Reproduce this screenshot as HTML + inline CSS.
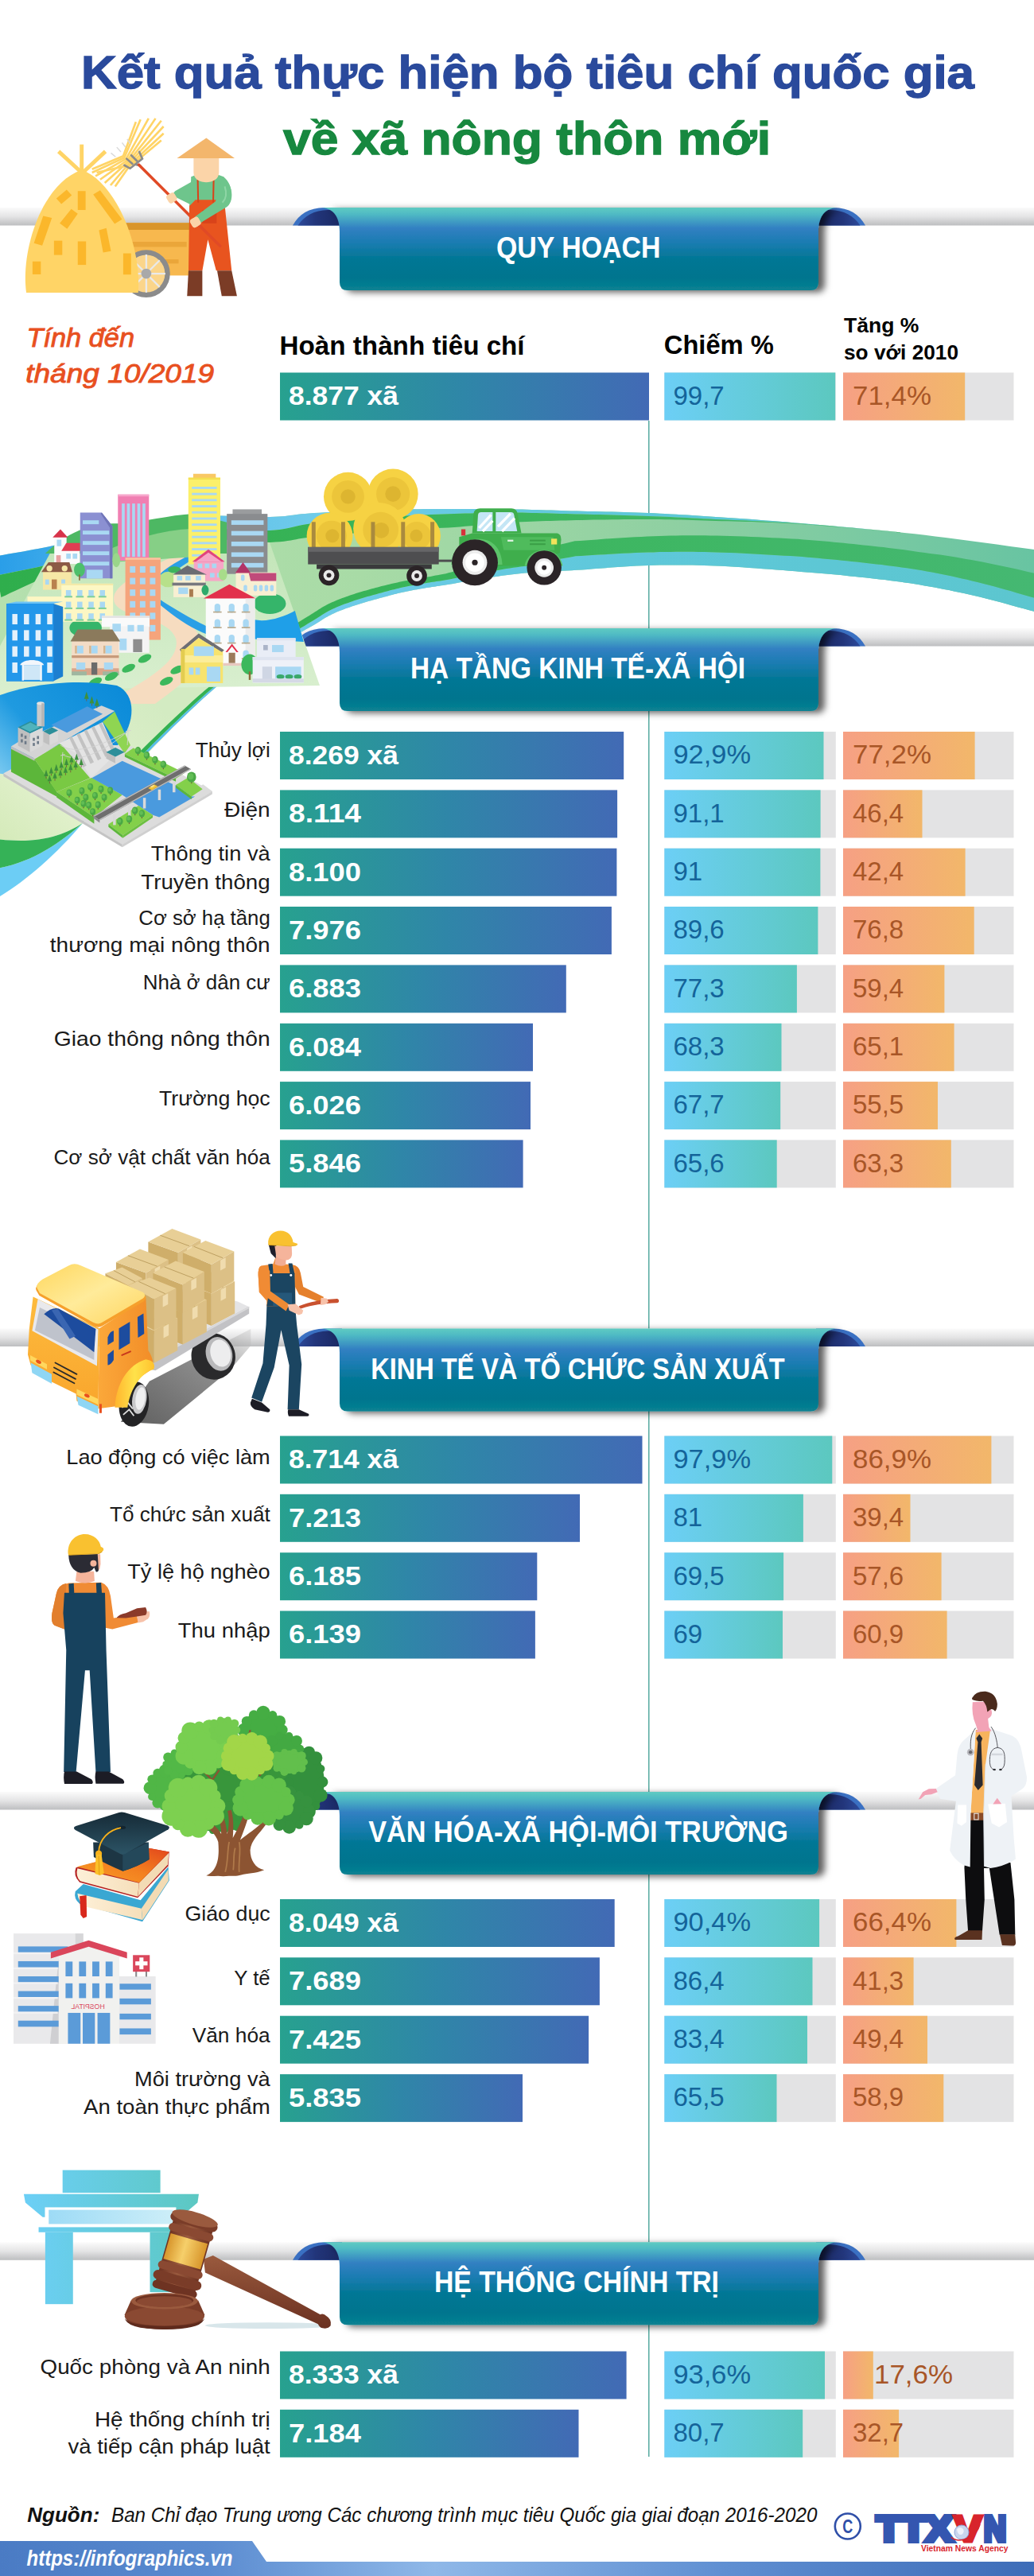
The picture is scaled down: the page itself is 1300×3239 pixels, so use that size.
<!DOCTYPE html>
<html lang="vi"><head><meta charset="utf-8"><title>Kết quả thực hiện bộ tiêu chí quốc gia về xã nông thôn mới</title>
<style>
html,body{margin:0;padding:0;background:#fff;}
body{width:1300px;height:3239px;overflow:hidden;}
svg{display:block;font-family:"Liberation Sans", sans-serif;}
</style></head><body>
<svg width="1300" height="3239" viewBox="0 0 1300 3239">

<defs>
<linearGradient id="gMain" x1="0" x2="1" y1="0" y2="0"><stop offset="0" stop-color="#27a18f"/><stop offset="0.5" stop-color="#2f86a8"/><stop offset="1" stop-color="#426ab5"/></linearGradient>
<linearGradient id="gPct" x1="0" x2="1" y1="0" y2="0"><stop offset="0" stop-color="#6ccff6"/><stop offset="1" stop-color="#5cc8bf"/></linearGradient>
<linearGradient id="gInc" x1="0" x2="1" y1="0" y2="0"><stop offset="0" stop-color="#f6a084"/><stop offset="1" stop-color="#f2b76a"/></linearGradient>
<linearGradient id="gStripe" x1="0" x2="0" y1="0" y2="1"><stop offset="0" stop-color="#fbfbfb"/><stop offset="0.5" stop-color="#e4e4e5"/><stop offset="1" stop-color="#bdbec0"/></linearGradient>
<linearGradient id="gRibbon" x1="0" x2="0" y1="0" y2="1"><stop offset="0" stop-color="#5fcbc2"/><stop offset="0.08" stop-color="#4fbac4"/><stop offset="0.25" stop-color="#3280c2"/><stop offset="0.42" stop-color="#1b7cb2"/><stop offset="0.62" stop-color="#027795"/><stop offset="0.85" stop-color="#02758e"/><stop offset="1" stop-color="#088292"/></linearGradient>
<linearGradient id="gFoldL" x1="0" x2="1" y1="0" y2="0"><stop offset="0" stop-color="#2d4a9a"/><stop offset="0.4" stop-color="#22357a"/><stop offset="1" stop-color="#1a2862"/></linearGradient>
<linearGradient id="gFoldR" x1="1" x2="0" y1="0" y2="0"><stop offset="0" stop-color="#2d4a9a"/><stop offset="0.4" stop-color="#22357a"/><stop offset="1" stop-color="#1a2862"/></linearGradient>
<linearGradient id="gFoot" x1="0" x2="1" y1="0" y2="0"><stop offset="0" stop-color="#4a7bc4"/><stop offset="0.2" stop-color="#5a8bd0"/><stop offset="0.42" stop-color="#8fb8e8"/><stop offset="0.7" stop-color="#5f8fd2"/><stop offset="1" stop-color="#3d6cb8"/></linearGradient>
<filter id="sh" x="-5%" y="-10%" width="110%" height="130%"><feDropShadow dx="8" dy="2.5" stdDeviation="4" flood-color="#000" flood-opacity="0.62"/></filter>
</defs>

<text x="102" y="111" font-size="58" fill="#2a4a9c" font-weight="bold" textLength="1123" lengthAdjust="spacingAndGlyphs" stroke="#2a4a9c" stroke-width="1.3">Kết quả thực hiện bộ tiêu chí quốc gia</text>
<text x="356" y="194" font-size="58" fill="#17883f" font-weight="bold" textLength="613" lengthAdjust="spacingAndGlyphs" stroke="#17883f" stroke-width="1.3">về xã nông thôn mới</text>
<rect x="815.1" y="529" width="1.4" height="2560" fill="#4aa39a"/>

<rect x="0" y="261" width="1300" height="22.5" fill="url(#gStripe)"/>
<path d="M368,283.5 C376,269 388,261.5 408,261 L430,261 L430,283.5 Z" fill="#3a70c2"/>
<path d="M374.5,283.5 C383,271 395,264.5 412,264 L430,264 L430,283.5 Z" fill="url(#gFoldL)"/>
<path d="M1088,283.5 C1080,269 1068,261.5 1048,261 L1026,261 L1026,283.5 Z" fill="#3a70c2"/>
<path d="M1081.5,283.5 C1073,271 1061,264.5 1044,264 L1026,264 L1026,283.5 Z" fill="url(#gFoldR)"/>
<path filter="url(#sh)" d="M427,291 C427,271 418,261 402,261 L1054,261 C1038,261 1029,271 1029,291 L1029,355 Q1029,365 1019,365 L437,365 Q427,365 427,355 Z" fill="url(#gRibbon)"/>
<text x="624" y="324" font-size="37" fill="#fff" font-weight="bold" textLength="206.5" lengthAdjust="spacingAndGlyphs">QUY HOẠCH</text>
<text x="33.5" y="436" font-size="33.5" fill="#e8501f" font-style="italic" textLength="135.5" lengthAdjust="spacingAndGlyphs" stroke="#e8501f" stroke-width="0.9">Tính đến</text>
<text x="32.2" y="480.7" font-size="33.5" fill="#e8501f" font-style="italic" textLength="237" lengthAdjust="spacingAndGlyphs" stroke="#e8501f" stroke-width="0.9">tháng 10/2019</text>
<text x="351.6" y="446.4" font-size="33" fill="#000" font-weight="bold" textLength="308" lengthAdjust="spacingAndGlyphs">Hoàn thành tiêu chí</text>
<text x="834.8" y="445.3" font-size="33" fill="#000" font-weight="bold" textLength="138" lengthAdjust="spacingAndGlyphs">Chiếm %</text>
<text x="1061" y="417.7" font-size="25.7" fill="#000" font-weight="bold" textLength="94.4" lengthAdjust="spacingAndGlyphs">Tăng %</text>
<text x="1061" y="451.6" font-size="25.7" fill="#000" font-weight="bold" textLength="144" lengthAdjust="spacingAndGlyphs">so với 2010</text>
<rect x="352" y="468.5" width="464.0" height="60" fill="url(#gMain)"/>
<text x="363" y="509.3" font-size="34" fill="#fff" font-weight="bold" textLength="138" lengthAdjust="spacingAndGlyphs">8.877 xã</text>
<rect x="835.3" y="468.5" width="215.5" height="60" fill="#e3e3e4"/>
<rect x="835.3" y="468.5" width="214.9" height="60" fill="url(#gPct)"/>
<text x="846.5" y="508.8" font-size="33" fill="#14649a">99,7</text>
<rect x="1060" y="468.5" width="214.5" height="60" fill="#e3e3e4"/>
<rect x="1060" y="468.5" width="153.2" height="60" fill="url(#gInc)"/>
<text x="1072" y="508.8" font-size="33" fill="#a85627" textLength="99" lengthAdjust="spacingAndGlyphs">71,4%</text>
<rect x="0" y="790" width="1300" height="22.5" fill="url(#gStripe)"/>
<path d="M368,812.5 C376,798 388,790.5 408,790 L430,790 L430,812.5 Z" fill="#3a70c2"/>
<path d="M374.5,812.5 C383,800 395,793.5 412,793 L430,793 L430,812.5 Z" fill="url(#gFoldL)"/>
<path d="M1088,812.5 C1080,798 1068,790.5 1048,790 L1026,790 L1026,812.5 Z" fill="#3a70c2"/>
<path d="M1081.5,812.5 C1073,800 1061,793.5 1044,793 L1026,793 L1026,812.5 Z" fill="url(#gFoldR)"/>
<path filter="url(#sh)" d="M427,820 C427,800 418,790 402,790 L1054,790 C1038,790 1029,800 1029,820 L1029,884 Q1029,894 1019,894 L437,894 Q427,894 427,884 Z" fill="url(#gRibbon)"/>
<text x="516" y="853" font-size="37" fill="#fff" font-weight="bold" textLength="421" lengthAdjust="spacingAndGlyphs">HẠ TẦNG KINH TẾ-XÃ HỘI</text>
<rect x="352" y="920.0" width="432.2" height="60" fill="url(#gMain)"/>
<text x="363" y="960.8" font-size="34" fill="#fff" font-weight="bold" textLength="138" lengthAdjust="spacingAndGlyphs">8.269 xã</text>
<rect x="835.3" y="920.0" width="215.5" height="60" fill="#e3e3e4"/>
<rect x="835.3" y="920.0" width="200.2" height="60" fill="url(#gPct)"/>
<text x="846.5" y="960.3" font-size="33" fill="#14649a" textLength="97.5" lengthAdjust="spacingAndGlyphs">92,9%</text>
<rect x="1060" y="920.0" width="214.5" height="60" fill="#e3e3e4"/>
<rect x="1060" y="920.0" width="165.6" height="60" fill="url(#gInc)"/>
<text x="1072" y="960.3" font-size="33" fill="#a85627" textLength="99" lengthAdjust="spacingAndGlyphs">77,2%</text>
<text x="245.7" y="952.0" font-size="25.5" fill="#1a1a1a" textLength="94.0" lengthAdjust="spacingAndGlyphs">Thủy lợi</text>
<rect x="352" y="993.4" width="424.1" height="60" fill="url(#gMain)"/>
<text x="363" y="1034.2" font-size="34" fill="#fff" font-weight="bold" textLength="91" lengthAdjust="spacingAndGlyphs">8.114</text>
<rect x="835.3" y="993.4" width="215.5" height="60" fill="#e3e3e4"/>
<rect x="835.3" y="993.4" width="196.3" height="60" fill="url(#gPct)"/>
<text x="846.5" y="1033.7" font-size="33" fill="#14649a">91,1</text>
<rect x="1060" y="993.4" width="214.5" height="60" fill="#e3e3e4"/>
<rect x="1060" y="993.4" width="99.5" height="60" fill="url(#gInc)"/>
<text x="1072" y="1033.7" font-size="33" fill="#a85627">46,4</text>
<text x="282" y="1026.7" font-size="25.5" fill="#1a1a1a" textLength="57.7" lengthAdjust="spacingAndGlyphs">Điện</text>
<rect x="352" y="1066.7" width="423.4" height="60" fill="url(#gMain)"/>
<text x="363" y="1107.5" font-size="34" fill="#fff" font-weight="bold" textLength="91" lengthAdjust="spacingAndGlyphs">8.100</text>
<rect x="835.3" y="1066.7" width="215.5" height="60" fill="#e3e3e4"/>
<rect x="835.3" y="1066.7" width="196.1" height="60" fill="url(#gPct)"/>
<text x="846.5" y="1107.0" font-size="33" fill="#14649a">91</text>
<rect x="1060" y="1066.7" width="214.5" height="60" fill="#e3e3e4"/>
<rect x="1060" y="1066.7" width="153.6" height="60" fill="url(#gInc)"/>
<text x="1072" y="1107.0" font-size="33" fill="#a85627">42,4</text>
<text x="189.7" y="1082.2" font-size="25.5" fill="#1a1a1a" textLength="150.0" lengthAdjust="spacingAndGlyphs">Thông tin và</text>
<text x="177.3" y="1117.7" font-size="25.5" fill="#1a1a1a" textLength="162.4" lengthAdjust="spacingAndGlyphs">Truyền thông</text>
<rect x="352" y="1140.0" width="416.9" height="60" fill="url(#gMain)"/>
<text x="363" y="1180.8" font-size="34" fill="#fff" font-weight="bold" textLength="91" lengthAdjust="spacingAndGlyphs">7.976</text>
<rect x="835.3" y="1140.0" width="215.5" height="60" fill="#e3e3e4"/>
<rect x="835.3" y="1140.0" width="193.1" height="60" fill="url(#gPct)"/>
<text x="846.5" y="1180.3" font-size="33" fill="#14649a">89,6</text>
<rect x="1060" y="1140.0" width="214.5" height="60" fill="#e3e3e4"/>
<rect x="1060" y="1140.0" width="164.7" height="60" fill="url(#gInc)"/>
<text x="1072" y="1180.3" font-size="33" fill="#a85627">76,8</text>
<text x="174.3" y="1162.5" font-size="25.5" fill="#1a1a1a" textLength="165.4" lengthAdjust="spacingAndGlyphs">Cơ sở hạ tầng</text>
<text x="62.8" y="1196.5" font-size="25.5" fill="#1a1a1a" textLength="276.9" lengthAdjust="spacingAndGlyphs">thương mại nông thôn</text>
<rect x="352" y="1213.4" width="359.8" height="60" fill="url(#gMain)"/>
<text x="363" y="1254.2" font-size="34" fill="#fff" font-weight="bold" textLength="91" lengthAdjust="spacingAndGlyphs">6.883</text>
<rect x="835.3" y="1213.4" width="215.5" height="60" fill="#e3e3e4"/>
<rect x="835.3" y="1213.4" width="166.6" height="60" fill="url(#gPct)"/>
<text x="846.5" y="1253.7" font-size="33" fill="#14649a">77,3</text>
<rect x="1060" y="1213.4" width="214.5" height="60" fill="#e3e3e4"/>
<rect x="1060" y="1213.4" width="127.4" height="60" fill="url(#gInc)"/>
<text x="1072" y="1253.7" font-size="33" fill="#a85627">59,4</text>
<text x="179.8" y="1243.8000000000002" font-size="25.5" fill="#1a1a1a" textLength="159.9" lengthAdjust="spacingAndGlyphs">Nhà ở dân cư</text>
<rect x="352" y="1286.8" width="318.0" height="60" fill="url(#gMain)"/>
<text x="363" y="1327.6" font-size="34" fill="#fff" font-weight="bold" textLength="91" lengthAdjust="spacingAndGlyphs">6.084</text>
<rect x="835.3" y="1286.8" width="215.5" height="60" fill="#e3e3e4"/>
<rect x="835.3" y="1286.8" width="147.2" height="60" fill="url(#gPct)"/>
<text x="846.5" y="1327.1" font-size="33" fill="#14649a">68,3</text>
<rect x="1060" y="1286.8" width="214.5" height="60" fill="#e3e3e4"/>
<rect x="1060" y="1286.8" width="139.6" height="60" fill="url(#gInc)"/>
<text x="1072" y="1327.1" font-size="33" fill="#a85627">65,1</text>
<text x="67.8" y="1315.3" font-size="25.5" fill="#1a1a1a" textLength="271.9" lengthAdjust="spacingAndGlyphs">Giao thông nông thôn</text>
<rect x="352" y="1360.1" width="315.0" height="60" fill="url(#gMain)"/>
<text x="363" y="1400.8999999999999" font-size="34" fill="#fff" font-weight="bold" textLength="91" lengthAdjust="spacingAndGlyphs">6.026</text>
<rect x="835.3" y="1360.1" width="215.5" height="60" fill="#e3e3e4"/>
<rect x="835.3" y="1360.1" width="145.9" height="60" fill="url(#gPct)"/>
<text x="846.5" y="1400.3999999999999" font-size="33" fill="#14649a">67,7</text>
<rect x="1060" y="1360.1" width="214.5" height="60" fill="#e3e3e4"/>
<rect x="1060" y="1360.1" width="119.0" height="60" fill="url(#gInc)"/>
<text x="1072" y="1400.3999999999999" font-size="33" fill="#a85627">55,5</text>
<text x="200" y="1390.1" font-size="25.5" fill="#1a1a1a" textLength="139.7" lengthAdjust="spacingAndGlyphs">Trường học</text>
<rect x="352" y="1433.4" width="305.6" height="60" fill="url(#gMain)"/>
<text x="363" y="1474.2" font-size="34" fill="#fff" font-weight="bold" textLength="91" lengthAdjust="spacingAndGlyphs">5.846</text>
<rect x="835.3" y="1433.4" width="215.5" height="60" fill="#e3e3e4"/>
<rect x="835.3" y="1433.4" width="141.4" height="60" fill="url(#gPct)"/>
<text x="846.5" y="1473.7" font-size="33" fill="#14649a">65,6</text>
<rect x="1060" y="1433.4" width="214.5" height="60" fill="#e3e3e4"/>
<rect x="1060" y="1433.4" width="135.8" height="60" fill="url(#gInc)"/>
<text x="1072" y="1473.7" font-size="33" fill="#a85627">63,3</text>
<text x="67.5" y="1464.4" font-size="25.5" fill="#1a1a1a" textLength="272.2" lengthAdjust="spacingAndGlyphs">Cơ sở vật chất văn hóa</text>
<rect x="0" y="1670.5" width="1300" height="22.5" fill="url(#gStripe)"/>
<path d="M368,1693.0 C376,1678.5 388,1671.0 408,1670.5 L430,1670.5 L430,1693.0 Z" fill="#3a70c2"/>
<path d="M374.5,1693.0 C383,1680.5 395,1674.0 412,1673.5 L430,1673.5 L430,1693.0 Z" fill="url(#gFoldL)"/>
<path d="M1088,1693.0 C1080,1678.5 1068,1671.0 1048,1670.5 L1026,1670.5 L1026,1693.0 Z" fill="#3a70c2"/>
<path d="M1081.5,1693.0 C1073,1680.5 1061,1674.0 1044,1673.5 L1026,1673.5 L1026,1693.0 Z" fill="url(#gFoldR)"/>
<path filter="url(#sh)" d="M427,1700.5 C427,1680.5 418,1670.5 402,1670.5 L1054,1670.5 C1038,1670.5 1029,1680.5 1029,1700.5 L1029,1764.5 Q1029,1774.5 1019,1774.5 L437,1774.5 Q427,1774.5 427,1764.5 Z" fill="url(#gRibbon)"/>
<text x="466.2" y="1733.5" font-size="37" fill="#fff" font-weight="bold" textLength="520.4000000000001" lengthAdjust="spacingAndGlyphs">KINH TẾ VÀ TỔ CHỨC SẢN XUẤT</text>
<rect x="352" y="1805.5" width="455.5" height="60" fill="url(#gMain)"/>
<text x="363" y="1846.3" font-size="34" fill="#fff" font-weight="bold" textLength="138" lengthAdjust="spacingAndGlyphs">8.714 xã</text>
<rect x="835.3" y="1805.5" width="215.5" height="60" fill="#e3e3e4"/>
<rect x="835.3" y="1805.5" width="211.0" height="60" fill="url(#gPct)"/>
<text x="846.5" y="1845.8" font-size="33" fill="#14649a" textLength="97.5" lengthAdjust="spacingAndGlyphs">97,9%</text>
<rect x="1060" y="1805.5" width="214.5" height="60" fill="#e3e3e4"/>
<rect x="1060" y="1805.5" width="186.4" height="60" fill="url(#gInc)"/>
<text x="1072" y="1845.8" font-size="33" fill="#a85627" textLength="99" lengthAdjust="spacingAndGlyphs">86,9%</text>
<text x="83.3" y="1840.5" font-size="25.5" fill="#1a1a1a" textLength="256.4" lengthAdjust="spacingAndGlyphs">Lao động có việc làm</text>
<rect x="352" y="1878.8" width="377.0" height="60" fill="url(#gMain)"/>
<text x="363" y="1919.6" font-size="34" fill="#fff" font-weight="bold" textLength="91" lengthAdjust="spacingAndGlyphs">7.213</text>
<rect x="835.3" y="1878.8" width="215.5" height="60" fill="#e3e3e4"/>
<rect x="835.3" y="1878.8" width="174.6" height="60" fill="url(#gPct)"/>
<text x="846.5" y="1919.1" font-size="33" fill="#14649a">81</text>
<rect x="1060" y="1878.8" width="214.5" height="60" fill="#e3e3e4"/>
<rect x="1060" y="1878.8" width="84.5" height="60" fill="url(#gInc)"/>
<text x="1072" y="1919.1" font-size="33" fill="#a85627">39,4</text>
<text x="138" y="1913.2" font-size="25.5" fill="#1a1a1a" textLength="201.7" lengthAdjust="spacingAndGlyphs">Tổ chức sản xuất</text>
<rect x="352" y="1952.2" width="323.3" height="60" fill="url(#gMain)"/>
<text x="363" y="1993.0" font-size="34" fill="#fff" font-weight="bold" textLength="91" lengthAdjust="spacingAndGlyphs">6.185</text>
<rect x="835.3" y="1952.2" width="215.5" height="60" fill="#e3e3e4"/>
<rect x="835.3" y="1952.2" width="149.8" height="60" fill="url(#gPct)"/>
<text x="846.5" y="1992.5" font-size="33" fill="#14649a">69,5</text>
<rect x="1060" y="1952.2" width="214.5" height="60" fill="#e3e3e4"/>
<rect x="1060" y="1952.2" width="123.6" height="60" fill="url(#gInc)"/>
<text x="1072" y="1992.5" font-size="33" fill="#a85627">57,6</text>
<text x="160.3" y="1984.7" font-size="25.5" fill="#1a1a1a" textLength="179.4" lengthAdjust="spacingAndGlyphs">Tỷ lệ hộ nghèo</text>
<rect x="352" y="2025.5" width="320.9" height="60" fill="url(#gMain)"/>
<text x="363" y="2066.3" font-size="34" fill="#fff" font-weight="bold" textLength="91" lengthAdjust="spacingAndGlyphs">6.139</text>
<rect x="835.3" y="2025.5" width="215.5" height="60" fill="#e3e3e4"/>
<rect x="835.3" y="2025.5" width="148.7" height="60" fill="url(#gPct)"/>
<text x="846.5" y="2065.8" font-size="33" fill="#14649a">69</text>
<rect x="1060" y="2025.5" width="214.5" height="60" fill="#e3e3e4"/>
<rect x="1060" y="2025.5" width="130.6" height="60" fill="url(#gInc)"/>
<text x="1072" y="2065.8" font-size="33" fill="#a85627">60,9</text>
<text x="223.8" y="2059.0" font-size="25.5" fill="#1a1a1a" textLength="115.9" lengthAdjust="spacingAndGlyphs">Thu nhập</text>
<rect x="0" y="2253" width="1300" height="22.5" fill="url(#gStripe)"/>
<path d="M368,2275.5 C376,2261 388,2253.5 408,2253 L430,2253 L430,2275.5 Z" fill="#3a70c2"/>
<path d="M374.5,2275.5 C383,2263 395,2256.5 412,2256 L430,2256 L430,2275.5 Z" fill="url(#gFoldL)"/>
<path d="M1088,2275.5 C1080,2261 1068,2253.5 1048,2253 L1026,2253 L1026,2275.5 Z" fill="#3a70c2"/>
<path d="M1081.5,2275.5 C1073,2263 1061,2256.5 1044,2256 L1026,2256 L1026,2275.5 Z" fill="url(#gFoldR)"/>
<path filter="url(#sh)" d="M427,2283 C427,2263 418,2253 402,2253 L1054,2253 C1038,2253 1029,2263 1029,2283 L1029,2347 Q1029,2357 1019,2357 L437,2357 Q427,2357 427,2347 Z" fill="url(#gRibbon)"/>
<text x="463.2" y="2316" font-size="37" fill="#fff" font-weight="bold" textLength="527.5999999999999" lengthAdjust="spacingAndGlyphs">VĂN HÓA-XÃ HỘI-MÔI TRƯỜNG</text>
<rect x="352" y="2388.0" width="420.7" height="60" fill="url(#gMain)"/>
<text x="363" y="2428.8" font-size="34" fill="#fff" font-weight="bold" textLength="138" lengthAdjust="spacingAndGlyphs">8.049 xã</text>
<rect x="835.3" y="2388.0" width="215.5" height="60" fill="#e3e3e4"/>
<rect x="835.3" y="2388.0" width="194.8" height="60" fill="url(#gPct)"/>
<text x="846.5" y="2428.3" font-size="33" fill="#14649a" textLength="97.5" lengthAdjust="spacingAndGlyphs">90,4%</text>
<rect x="1060" y="2388.0" width="214.5" height="60" fill="#e3e3e4"/>
<rect x="1060" y="2388.0" width="142.4" height="60" fill="url(#gInc)"/>
<text x="1072" y="2428.3" font-size="33" fill="#a85627" textLength="99" lengthAdjust="spacingAndGlyphs">66,4%</text>
<text x="232.4" y="2415.0" font-size="25.5" fill="#1a1a1a" textLength="107.3" lengthAdjust="spacingAndGlyphs">Giáo dục</text>
<rect x="352" y="2461.3" width="401.9" height="60" fill="url(#gMain)"/>
<text x="363" y="2502.1000000000004" font-size="34" fill="#fff" font-weight="bold" textLength="91" lengthAdjust="spacingAndGlyphs">7.689</text>
<rect x="835.3" y="2461.3" width="215.5" height="60" fill="#e3e3e4"/>
<rect x="835.3" y="2461.3" width="186.2" height="60" fill="url(#gPct)"/>
<text x="846.5" y="2501.6000000000004" font-size="33" fill="#14649a">86,4</text>
<rect x="1060" y="2461.3" width="214.5" height="60" fill="#e3e3e4"/>
<rect x="1060" y="2461.3" width="88.6" height="60" fill="url(#gInc)"/>
<text x="1072" y="2501.6000000000004" font-size="33" fill="#a85627">41,3</text>
<text x="294.3" y="2495.9" font-size="25.5" fill="#1a1a1a" textLength="45.4" lengthAdjust="spacingAndGlyphs">Y tế</text>
<rect x="352" y="2534.7" width="388.1" height="60" fill="url(#gMain)"/>
<text x="363" y="2575.5" font-size="34" fill="#fff" font-weight="bold" textLength="91" lengthAdjust="spacingAndGlyphs">7.425</text>
<rect x="835.3" y="2534.7" width="215.5" height="60" fill="#e3e3e4"/>
<rect x="835.3" y="2534.7" width="179.7" height="60" fill="url(#gPct)"/>
<text x="846.5" y="2575.0" font-size="33" fill="#14649a">83,4</text>
<rect x="1060" y="2534.7" width="214.5" height="60" fill="#e3e3e4"/>
<rect x="1060" y="2534.7" width="106.0" height="60" fill="url(#gInc)"/>
<text x="1072" y="2575.0" font-size="33" fill="#a85627">49,4</text>
<text x="241.7" y="2567.7" font-size="25.5" fill="#1a1a1a" textLength="98.0" lengthAdjust="spacingAndGlyphs">Văn hóa</text>
<rect x="352" y="2608.1" width="305.0" height="60" fill="url(#gMain)"/>
<text x="363" y="2648.9" font-size="34" fill="#fff" font-weight="bold" textLength="91" lengthAdjust="spacingAndGlyphs">5.835</text>
<rect x="835.3" y="2608.1" width="215.5" height="60" fill="#e3e3e4"/>
<rect x="835.3" y="2608.1" width="141.2" height="60" fill="url(#gPct)"/>
<text x="846.5" y="2648.4" font-size="33" fill="#14649a">65,5</text>
<rect x="1060" y="2608.1" width="214.5" height="60" fill="#e3e3e4"/>
<rect x="1060" y="2608.1" width="126.3" height="60" fill="url(#gInc)"/>
<text x="1072" y="2648.4" font-size="33" fill="#a85627">58,9</text>
<text x="169" y="2623.2999999999997" font-size="25.5" fill="#1a1a1a" textLength="170.7" lengthAdjust="spacingAndGlyphs">Môi trường và</text>
<text x="105" y="2657.6" font-size="25.5" fill="#1a1a1a" textLength="234.7" lengthAdjust="spacingAndGlyphs">An toàn thực phẩm</text>
<rect x="0" y="2819.3" width="1300" height="22.5" fill="url(#gStripe)"/>
<path d="M368,2841.8 C376,2827.3 388,2819.8 408,2819.3 L430,2819.3 L430,2841.8 Z" fill="#3a70c2"/>
<path d="M374.5,2841.8 C383,2829.3 395,2822.8 412,2822.3 L430,2822.3 L430,2841.8 Z" fill="url(#gFoldL)"/>
<path d="M1088,2841.8 C1080,2827.3 1068,2819.8 1048,2819.3 L1026,2819.3 L1026,2841.8 Z" fill="#3a70c2"/>
<path d="M1081.5,2841.8 C1073,2829.3 1061,2822.8 1044,2822.3 L1026,2822.3 L1026,2841.8 Z" fill="url(#gFoldR)"/>
<path filter="url(#sh)" d="M427,2849.3 C427,2829.3 418,2819.3 402,2819.3 L1054,2819.3 C1038,2819.3 1029,2829.3 1029,2849.3 L1029,2913.3 Q1029,2923.3 1019,2923.3 L437,2923.3 Q427,2923.3 427,2913.3 Z" fill="url(#gRibbon)"/>
<text x="546" y="2882.3" font-size="37" fill="#fff" font-weight="bold" textLength="358" lengthAdjust="spacingAndGlyphs">HỆ THỐNG CHÍNH TRỊ</text>
<rect x="352" y="2956.5" width="435.6" height="60" fill="url(#gMain)"/>
<text x="363" y="2997.3" font-size="34" fill="#fff" font-weight="bold" textLength="138" lengthAdjust="spacingAndGlyphs">8.333 xã</text>
<rect x="835.3" y="2956.5" width="215.5" height="60" fill="#e3e3e4"/>
<rect x="835.3" y="2956.5" width="201.7" height="60" fill="url(#gPct)"/>
<text x="846.5" y="2996.8" font-size="33" fill="#14649a" textLength="97.5" lengthAdjust="spacingAndGlyphs">93,6%</text>
<rect x="1060" y="2956.5" width="214.5" height="60" fill="#e3e3e4"/>
<rect x="1060" y="2956.5" width="37.8" height="60" fill="url(#gInc)"/>
<text x="1099" y="2996.8" font-size="33" fill="#a85627" textLength="99" lengthAdjust="spacingAndGlyphs">17,6%</text>
<text x="50.5" y="2985.0" font-size="25.5" fill="#1a1a1a" textLength="289.2" lengthAdjust="spacingAndGlyphs">Quốc phòng và An ninh</text>
<rect x="352" y="3029.8" width="375.5" height="60" fill="url(#gMain)"/>
<text x="363" y="3070.6000000000004" font-size="34" fill="#fff" font-weight="bold" textLength="91" lengthAdjust="spacingAndGlyphs">7.184</text>
<rect x="835.3" y="3029.8" width="215.5" height="60" fill="#e3e3e4"/>
<rect x="835.3" y="3029.8" width="173.9" height="60" fill="url(#gPct)"/>
<text x="846.5" y="3070.1000000000004" font-size="33" fill="#14649a">80,7</text>
<rect x="1060" y="3029.8" width="214.5" height="60" fill="#e3e3e4"/>
<rect x="1060" y="3029.8" width="70.1" height="60" fill="url(#gInc)"/>
<text x="1072" y="3070.1000000000004" font-size="33" fill="#a85627">32,7</text>
<text x="118.9" y="3050.8" font-size="25.5" fill="#1a1a1a" textLength="220.8" lengthAdjust="spacingAndGlyphs">Hệ thống chính trị</text>
<text x="85.4" y="3084.8" font-size="25.5" fill="#1a1a1a" textLength="254.3" lengthAdjust="spacingAndGlyphs">và tiếp cận pháp luật</text>
<path d="M0,3195 L317,3195 L335,3221 L1300,3221 L1300,3239 L0,3239 Z" fill="url(#gFoot)"/>
<text x="33.5" y="3225.5" font-size="28.5" fill="#fff" font-weight="bold" font-style="italic" textLength="259" lengthAdjust="spacingAndGlyphs">https://infographics.vn</text>
<text x="34.3" y="3170.6" font-size="26" fill="#111" font-weight="bold" font-style="italic" textLength="91" lengthAdjust="spacingAndGlyphs">Nguồn:</text>
<text x="140" y="3170.6" font-size="26" fill="#111" font-style="italic" textLength="887.4" lengthAdjust="spacingAndGlyphs">Ban Chỉ đạo Trung ương Các chương trình mục tiêu Quốc gia giai đoạn 2016-2020</text>
<g><defs>
<linearGradient id="bgBlue" gradientUnits="userSpaceOnUse" x1="0" x2="1300" y1="0" y2="0"><stop offset="0" stop-color="#2a9ee8"/><stop offset="0.12" stop-color="#52b8ec"/><stop offset="0.3" stop-color="#6fcbea"/><stop offset="0.6" stop-color="#5ec8da"/><stop offset="1" stop-color="#5cc6cf"/></linearGradient>
<linearGradient id="bgGreen" gradientUnits="userSpaceOnUse" x1="0" x2="1300" y1="0" y2="0"><stop offset="0" stop-color="#2fae4c"/><stop offset="0.5" stop-color="#3cb65e"/><stop offset="1" stop-color="#45b872"/></linearGradient>
<linearGradient id="bgLG" gradientUnits="userSpaceOnUse" x1="0" x2="1300" y1="0" y2="0"><stop offset="0" stop-color="#b5e0ae"/><stop offset="0.35" stop-color="#a8dba6"/><stop offset="0.65" stop-color="#8fd0a2"/><stop offset="1" stop-color="#68c4a2"/></linearGradient>
<linearGradient id="bgGround" gradientUnits="userSpaceOnUse" x1="0" x2="0" y1="680" y2="870"><stop offset="0" stop-color="#c2e5b8"/><stop offset="1" stop-color="#d9efcf"/></linearGradient>
<linearGradient id="bgGround2" gradientUnits="userSpaceOnUse" x1="180" x2="0" y1="870" y2="1080"><stop offset="0" stop-color="#d3ebc2"/><stop offset="0.6" stop-color="#e2f1cd"/><stop offset="1" stop-color="#d2e9b6"/></linearGradient>
<linearGradient id="bgLake" gradientUnits="userSpaceOnUse" x1="0" x2="160" y1="1000" y2="860"><stop offset="0" stop-color="#8fd4f4"/><stop offset="0.4" stop-color="#1f9ae0"/><stop offset="1" stop-color="#0a8ad8"/></linearGradient>
</defs>
<polygon points="-8.0,700.0 -1.8,698.9 4.4,697.7 10.6,696.6 16.8,695.6 22.9,694.5 29.1,693.4 35.3,692.3 41.6,691.1 47.8,689.9 54.2,688.7 60.5,687.4 67.0,686.0 73.5,684.5 80.1,683.0 86.8,681.4 93.4,679.7 100.2,677.9 106.9,676.2 113.7,674.4 120.6,672.7 127.4,670.9 134.3,669.2 141.1,667.6 148.0,666.0 154.8,664.4 161.6,662.8 168.2,661.1 174.9,659.4 181.6,657.8 188.4,656.2 195.2,654.7 202.2,653.2 209.3,651.9 216.6,650.8 224.2,649.8 232.0,649.0 240.3,648.5 249.2,648.2 258.5,648.1 268.1,648.2 277.8,648.4 287.6,648.7 297.3,649.1 306.7,649.4 315.7,649.7 324.2,649.9 332.0,650.1 339.0,650.0 345.0,649.8 350.2,649.6 354.5,649.3 358.4,648.9 361.8,648.5 365.0,648.1 368.1,647.7 371.4,647.2 375.0,646.8 379.0,646.3 383.6,645.9 389.0,645.5 395.1,645.1 401.8,644.7 408.9,644.3 416.3,643.9 424.0,643.4 431.9,643.0 440.0,642.6 448.1,642.2 456.3,641.9 464.4,641.5 472.3,641.3 480.0,641.0 487.6,640.8 495.3,640.6 503.0,640.5 510.8,640.4 518.5,640.3 526.2,640.2 533.9,640.1 541.6,640.1 549.1,640.1 556.5,640.0 563.8,640.0 571.0,640.0 578.0,640.0 584.9,640.0 591.7,640.0 598.4,640.0 605.0,640.0 611.5,640.1 618.0,640.1 624.4,640.2 630.8,640.2 637.2,640.3 643.6,640.4 650.0,640.5 656.3,640.6 662.6,640.8 668.7,640.9 674.7,641.1 680.8,641.2 686.8,641.4 692.9,641.6 699.0,641.8 705.3,642.0 711.7,642.2 718.2,642.4 725.0,642.6 732.0,642.8 739.2,643.0 746.6,643.1 754.1,643.3 761.7,643.4 769.4,643.6 777.1,643.8 784.8,644.0 792.5,644.2 800.1,644.4 807.6,644.7 815.0,645.0 822.2,645.3 829.3,645.7 836.2,646.0 843.1,646.4 850.0,646.8 856.9,647.2 863.8,647.6 870.7,648.1 877.8,648.5 885.0,649.0 892.4,649.5 900.0,650.0 907.6,650.5 915.2,651.0 922.8,651.5 930.4,652.0 938.1,652.6 945.9,653.1 954.0,653.7 962.4,654.4 971.1,655.0 980.3,655.8 989.9,656.5 1000.0,657.4 1010.7,658.3 1022.0,659.3 1033.8,660.3 1046.0,661.3 1058.6,662.4 1071.4,663.5 1084.4,664.7 1097.6,665.9 1110.8,667.2 1124.0,668.5 1137.1,669.9 1150.0,671.3 1162.9,672.8 1175.9,674.4 1188.9,676.0 1202.1,677.7 1215.3,679.4 1228.5,681.2 1241.8,683.0 1255.0,684.8 1268.3,686.7 1281.6,688.5 1294.8,690.3 1308.0,692.0 1308.0,771.0 1301.1,769.1 1294.1,767.2 1287.1,765.3 1280.0,763.4 1273.0,761.5 1266.0,759.5 1259.0,757.6 1252.1,755.8 1245.2,754.0 1238.4,752.2 1231.6,750.6 1225.0,749.0 1218.5,747.5 1212.0,746.1 1205.7,744.7 1199.4,743.4 1193.2,742.1 1187.0,740.9 1180.8,739.7 1174.7,738.5 1168.6,737.4 1162.4,736.4 1156.2,735.3 1150.0,734.3 1143.8,733.3 1137.5,732.4 1131.2,731.5 1125.0,730.7 1118.8,729.9 1112.5,729.1 1106.2,728.4 1100.0,727.7 1093.8,727.0 1087.5,726.3 1081.2,725.7 1075.0,725.0 1068.8,724.4 1062.8,723.7 1056.8,723.1 1050.9,722.6 1045.0,722.0 1039.1,721.5 1033.0,721.0 1026.9,720.4 1020.5,719.9 1013.9,719.4 1007.1,718.9 1000.0,718.3 992.5,717.7 984.6,717.1 976.4,716.5 968.0,715.8 959.3,715.2 950.6,714.5 941.9,713.9 933.1,713.3 924.5,712.8 916.1,712.3 907.9,711.8 900.0,711.5 892.4,711.2 885.0,711.0 877.8,710.8 870.7,710.6 863.8,710.5 856.9,710.5 850.0,710.4 843.1,710.5 836.2,710.5 829.3,710.6 822.2,710.8 815.0,711.0 807.6,711.3 800.0,711.6 792.3,712.1 784.4,712.5 776.6,713.1 768.8,713.6 761.0,714.2 753.3,714.8 745.9,715.3 738.6,715.9 731.6,716.4 725.0,716.8 718.7,717.2 712.5,717.5 706.6,717.8 700.9,718.1 695.4,718.4 690.0,718.7 684.8,718.9 679.6,719.2 674.6,719.5 669.7,719.8 664.8,720.2 660.0,720.6 655.3,721.0 650.8,721.5 646.4,722.0 642.1,722.5 638.0,723.0 633.9,723.5 629.9,724.1 625.9,724.7 621.9,725.2 618.0,725.8 614.0,726.4 610.0,727.0 605.9,727.6 601.8,728.3 597.6,729.0 593.4,729.7 589.3,730.4 585.2,731.1 581.2,731.8 577.2,732.5 573.4,733.2 569.8,733.9 566.3,734.5 563.0,735.0 560.0,735.5 557.1,735.9 554.5,736.3 552.0,736.7 549.6,737.1 547.4,737.4 545.2,737.7 543.0,738.1 540.8,738.4 538.6,738.7 536.4,739.1 534.0,739.5 531.6,739.9 529.2,740.3 526.8,740.8 524.3,741.2 521.9,741.6 519.5,742.1 517.1,742.5 514.7,743.0 512.2,743.5 509.8,744.0 507.4,744.5 505.0,745.0 502.6,745.6 500.2,746.1 497.8,746.7 495.3,747.3 492.9,747.9 490.5,748.6 488.1,749.2 485.7,749.9 483.2,750.5 480.8,751.2 478.4,751.8 476.0,752.5 473.6,753.2 471.2,753.8 468.8,754.5 466.3,755.2 463.9,755.8 461.5,756.5 459.1,757.2 456.7,757.9 454.2,758.7 451.8,759.4 449.4,760.2 447.0,761.0 444.6,761.8 442.2,762.6 439.8,763.4 437.3,764.3 434.9,765.1 432.5,766.0 430.1,766.9 427.7,767.8 425.2,768.8 422.8,769.8 420.4,770.9 418.0,772.0 415.7,773.2 413.5,774.3 411.5,775.5 409.4,776.6 407.4,777.8 405.4,779.1 403.2,780.5 400.9,781.9 398.4,783.5 395.6,785.2 392.5,787.0 389.0,789.0 385.1,791.1 380.9,793.4 376.5,795.8 371.7,798.3 366.7,801.0 361.6,803.7 356.4,806.5 351.1,809.4 345.7,812.5 340.4,815.6 335.2,818.7 330.0,822.0 325.0,825.3 320.0,828.5 315.1,831.7 310.2,835.0 305.2,838.3 300.2,841.8 295.2,845.5 289.9,849.4 284.5,853.5 278.9,858.0 273.1,862.8 267.0,868.0 260.6,873.7 253.8,879.8 246.7,886.4 239.4,893.2 231.9,900.4 224.3,907.7 216.7,915.1 209.1,922.7 201.5,930.2 194.1,937.6 186.9,944.9 180.0,952.0 173.3,959.0 166.7,965.9 160.2,972.8 153.9,979.7 147.6,986.7 141.3,993.6 135.1,1000.5 128.9,1007.4 122.7,1014.3 116.5,1021.2 110.3,1028.1 104.0,1035.0 -8.0,1035.0" fill="url(#bgLG)"/>
<path d="M-5,860 L268,864 C215,915 150,985 104,1035 C80,1050 50,1062 -5,1055 Z" fill="url(#bgGround2)"/>
<path d="M-5,1130 C30,1110 70,1075 104,1035 C75,1060 40,1085 -5,1092 Z" fill="#6ccdf5"/>
<path d="M-5,1092 C40,1085 75,1060 104,1035 C80,1050 50,1062 -5,1055 Z" fill="#35b257"/>
<polygon points="104.0,1035.0 110.3,1028.1 116.5,1021.2 122.7,1014.3 128.9,1007.4 135.1,1000.5 141.3,993.6 147.6,986.7 153.9,979.7 160.2,972.8 166.7,965.9 173.3,959.0 180.0,952.0 186.9,944.9 194.1,937.6 201.5,930.2 209.1,922.7 216.7,915.1 224.3,907.7 231.9,900.4 239.4,893.2 246.7,886.4 253.8,879.8 260.6,873.7 267.0,868.0 273.1,862.8 278.9,858.0 284.5,853.5 289.9,849.4 295.2,845.5 300.2,841.8 305.2,838.3 310.2,835.0 315.1,831.7 320.0,828.5 325.0,825.3 330.0,822.0 335.2,818.7 340.4,815.6 345.7,812.5 351.1,809.4 356.4,806.5 361.6,803.7 366.7,801.0 371.7,798.3 376.5,795.8 380.9,793.4 385.1,791.1 389.0,789.0 392.5,787.0 395.6,785.2 398.4,783.5 400.9,781.9 403.2,780.5 405.4,779.1 407.4,777.8 409.4,776.6 411.5,775.5 413.5,774.3 415.7,773.2 418.0,772.0 420.4,770.9 422.8,769.8 425.2,768.8 427.7,767.8 430.1,766.9 432.5,766.0 434.9,765.1 437.3,764.3 439.8,763.4 442.2,762.6 444.6,761.8 447.0,761.0 449.4,760.2 451.8,759.4 454.2,758.7 456.7,757.9 459.1,757.2 461.5,756.5 463.9,755.8 466.3,755.2 468.8,754.5 471.2,753.8 473.6,753.2 476.0,752.5 478.4,751.8 480.8,751.2 483.2,750.5 485.7,749.9 488.1,749.2 490.5,748.6 492.9,747.9 495.3,747.3 497.8,746.7 500.2,746.1 502.6,745.6 505.0,745.0 507.4,744.5 509.8,744.0 512.2,743.5 514.7,743.0 517.1,742.5 519.5,742.1 521.9,741.6 524.3,741.2 526.8,740.8 529.2,740.3 531.6,739.9 534.0,739.5 536.4,739.1 538.6,738.7 540.8,738.4 543.0,738.1 545.2,737.7 547.4,737.4 549.6,737.1 552.0,736.7 554.5,736.3 557.1,735.9 560.0,735.5 563.0,735.0 566.3,734.5 569.8,733.9 573.4,733.2 577.2,732.5 581.2,731.8 585.2,731.1 589.3,730.4 593.4,729.7 597.6,729.0 601.8,728.3 605.9,727.6 610.0,727.0 614.0,726.4 618.0,725.8 621.9,725.2 625.9,724.7 629.9,724.1 633.9,723.5 638.0,723.0 642.1,722.5 646.4,722.0 650.8,721.5 655.3,721.0 660.0,720.6 664.8,720.2 669.7,719.8 674.6,719.5 679.6,719.2 684.8,718.9 690.0,718.7 695.4,718.4 700.9,718.1 706.6,717.8 712.5,717.5 718.7,717.2 725.0,716.8 731.6,716.4 738.6,715.9 745.9,715.3 753.3,714.8 761.0,714.2 768.8,713.6 776.6,713.1 784.4,712.5 792.3,712.1 800.0,711.6 807.6,711.3 815.0,711.0 822.2,710.8 829.3,710.6 836.2,710.5 843.1,710.5 850.0,710.4 856.9,710.5 863.8,710.5 870.7,710.6 877.8,710.8 885.0,711.0 892.4,711.2 900.0,711.5 907.9,711.8 916.1,712.3 924.5,712.8 933.1,713.3 941.9,713.9 950.6,714.5 959.3,715.2 968.0,715.8 976.4,716.5 984.6,717.1 992.5,717.7 1000.0,718.3 1007.1,718.9 1013.9,719.4 1020.5,719.9 1026.9,720.4 1033.0,721.0 1039.1,721.5 1045.0,722.0 1050.9,722.6 1056.8,723.1 1062.8,723.7 1068.8,724.4 1075.0,725.0 1081.2,725.7 1087.5,726.3 1093.8,727.0 1100.0,727.7 1106.2,728.4 1112.5,729.1 1118.8,729.9 1125.0,730.7 1131.2,731.5 1137.5,732.4 1143.8,733.3 1150.0,734.3 1156.2,735.3 1162.4,736.4 1168.6,737.4 1174.7,738.5 1180.8,739.7 1187.0,740.9 1193.2,742.1 1199.4,743.4 1205.7,744.7 1212.0,746.1 1218.5,747.5 1225.0,749.0 1231.6,750.6 1238.4,752.2 1245.2,754.0 1252.1,755.8 1259.0,757.6 1266.0,759.5 1273.0,761.5 1280.0,763.4 1287.1,765.3 1294.1,767.2 1301.1,769.1 1308.0,771.0 1312.3,755.1 1305.4,753.1 1298.5,751.2 1291.5,749.2 1284.5,747.2 1277.5,745.2 1270.5,743.1 1263.5,741.2 1256.5,739.2 1249.5,737.3 1242.6,735.4 1235.7,733.7 1229.0,732.0 1222.3,730.4 1215.8,728.8 1209.4,727.4 1203.0,726.0 1196.7,724.6 1190.4,723.3 1184.2,722.0 1178.0,720.8 1171.7,719.6 1165.5,718.4 1159.2,717.3 1152.9,716.2 1146.5,715.2 1140.1,714.3 1133.7,713.4 1127.4,712.5 1121.0,711.7 1114.7,710.9 1108.4,710.1 1102.1,709.4 1095.8,708.7 1089.5,708.0 1083.2,707.3 1076.9,706.6 1070.7,705.9 1064.6,705.3 1058.6,704.7 1052.7,704.1 1046.7,703.5 1040.7,702.9 1034.6,702.4 1028.4,701.8 1022.0,701.3 1015.4,700.7 1008.6,700.1 1001.5,699.6 993.9,699.1 986.0,698.7 977.8,698.2 969.4,697.7 960.7,697.2 951.9,696.7 943.1,696.2 934.3,695.7 925.6,695.3 917.0,695.0 908.7,694.7 900.7,694.5 893.0,694.3 885.5,694.1 878.2,693.9 871.0,693.8 864.0,693.8 857.0,693.8 850.0,693.8 843.0,693.9 836.0,694.0 829.0,694.1 821.8,694.4 814.5,694.6 806.9,694.8 799.2,695.0 791.3,695.4 783.4,695.8 775.4,696.2 767.5,696.7 759.7,697.2 752.0,697.6 744.6,698.1 737.4,698.5 730.5,698.9 723.9,699.2 717.7,700.4 711.7,701.4 705.8,702.5 700.2,703.5 694.7,704.6 689.3,705.6 684.1,706.6 679.0,707.6 673.9,708.7 669.0,709.8 664.1,710.9 659.2,712.0 654.5,712.6 649.9,713.2 645.4,713.8 641.1,714.5 636.9,715.1 632.8,715.8 628.8,716.5 624.8,717.2 620.9,717.9 616.9,718.6 613.0,719.3 609.0,720.1 604.9,720.8 600.7,721.5 596.5,722.3 592.3,723.1 588.2,723.9 584.1,724.7 580.0,725.5 576.1,726.3 572.3,727.1 568.7,727.8 565.3,728.5 562.0,729.1 559.0,729.6 556.2,730.0 553.6,730.4 551.1,730.8 548.8,731.1 546.5,731.5 544.3,731.8 542.1,732.1 539.9,732.5 537.7,732.8 535.4,733.2 533.0,733.6 530.6,734.0 528.1,734.4 525.7,734.8 523.3,735.3 520.8,735.7 518.4,736.2 516.0,736.6 513.5,737.1 511.1,737.6 508.6,738.1 506.1,738.6 503.7,739.1 501.2,739.7 498.8,740.3 496.3,740.9 493.9,741.5 491.4,742.1 489.0,742.8 486.5,743.4 484.1,744.1 481.7,744.7 479.2,745.4 476.8,746.0 474.4,746.7 472.0,747.4 469.6,748.0 467.2,748.7 464.7,749.4 462.3,750.1 459.8,750.8 457.4,751.5 454.9,752.2 452.5,752.9 450.0,753.7 447.6,754.5 445.1,755.3 442.7,756.2 440.3,757.0 437.9,757.9 435.4,758.7 433.0,759.6 430.5,760.6 428.1,761.5 425.6,762.5 423.1,763.6 420.6,764.7 418.1,765.8 415.6,767.0 413.2,768.3 410.9,769.5 408.8,770.8 406.7,772.0 404.7,773.3 402.6,774.7 400.5,776.1 398.2,777.5 395.7,779.1 393.0,780.8 389.9,782.6 386.5,784.6 382.8,786.9 378.7,789.3 374.3,791.8 369.7,794.5 364.8,797.3 359.7,800.2 354.5,803.2 349.3,806.2 344.0,809.4 338.7,812.7 333.5,816.1 328.4,819.5 323.4,822.8 318.5,826.1 313.6,829.4 308.7,832.8 303.8,836.2 298.8,839.8 293.7,843.5 288.5,847.5 283.1,851.8 277.6,856.3 271.8,861.2 265.7,866.5 259.2,872.1 252.3,878.2 245.1,884.7 237.8,891.5 230.2,898.6 222.6,905.9 214.9,913.3 207.2,920.8 199.6,928.2 192.1,935.6 184.9,942.9 177.8,949.9 171.2,957.0 164.8,964.1 158.4,971.1 152.1,978.2 145.9,985.2 139.8,992.2 133.7,999.2 127.7,1006.3 121.6,1013.3 115.5,1020.3 109.4,1027.3 103.3,1034.3" fill="url(#bgBlue)"/>
<polygon points="103.3,1034.3 109.4,1027.3 115.5,1020.3 121.6,1013.3 127.7,1006.3 133.7,999.2 139.8,992.2 145.9,985.2 152.1,978.2 158.4,971.1 164.8,964.1 171.2,957.0 177.8,949.9 184.9,942.9 192.1,935.6 199.6,928.2 207.2,920.8 214.9,913.3 222.6,905.9 230.2,898.6 237.8,891.5 245.1,884.7 252.3,878.2 259.2,872.1 265.7,866.5 271.8,861.2 277.6,856.3 283.1,851.8 288.5,847.5 293.7,843.5 298.8,839.8 303.8,836.2 308.7,832.8 313.6,829.4 318.5,826.1 323.4,822.8 328.4,819.5 333.5,816.1 338.7,812.7 344.0,809.4 349.3,806.2 354.5,803.2 359.7,800.2 364.8,797.3 369.7,794.5 374.3,791.8 378.7,789.3 382.8,786.9 386.5,784.6 389.9,782.6 393.0,780.8 395.7,779.1 398.2,777.5 400.5,776.1 402.6,774.7 404.7,773.3 406.7,772.0 408.8,770.8 410.9,769.5 413.2,768.3 415.6,767.0 418.1,765.8 420.6,764.7 423.1,763.6 425.6,762.5 428.1,761.5 430.5,760.6 433.0,759.6 435.4,758.7 437.9,757.9 440.3,757.0 442.7,756.2 445.1,755.3 447.6,754.5 450.0,753.7 452.5,752.9 454.9,752.2 457.4,751.5 459.8,750.8 462.3,750.1 464.7,749.4 467.2,748.7 469.6,748.0 472.0,747.4 474.4,746.7 476.8,746.0 479.2,745.4 481.7,744.7 484.1,744.1 486.5,743.4 489.0,742.8 491.4,742.1 493.9,741.5 496.3,740.9 498.8,740.3 501.2,739.7 503.7,739.1 506.1,738.6 508.6,738.1 511.1,737.6 513.5,737.1 516.0,736.6 518.4,736.2 520.8,735.7 523.3,735.3 525.7,734.8 528.1,734.4 530.6,734.0 533.0,733.6 535.4,733.2 537.7,732.8 539.9,732.5 542.1,732.1 544.3,731.8 546.5,731.5 548.8,731.1 551.1,730.8 553.6,730.4 556.2,730.0 559.0,729.6 562.0,729.1 565.3,728.5 568.7,727.8 572.3,727.1 576.1,726.3 580.0,725.5 584.1,724.7 588.2,723.9 592.3,723.1 596.5,722.3 600.7,721.5 604.9,720.8 609.0,720.1 613.0,719.3 616.9,718.6 620.9,717.9 624.8,717.2 628.8,716.5 632.8,715.8 636.9,715.1 641.1,714.5 645.4,713.8 649.9,713.2 654.5,712.6 659.2,712.0 664.1,710.9 669.0,709.8 673.9,708.7 679.0,707.6 684.1,706.6 689.3,705.6 694.7,704.6 700.2,703.5 705.8,702.5 711.7,701.4 717.7,700.4 723.9,699.2 730.5,698.9 737.4,698.5 744.6,698.1 752.0,697.6 759.7,697.2 767.5,696.7 775.4,696.2 783.4,695.8 791.3,695.4 799.2,695.0 806.9,694.8 814.5,694.6 821.8,694.4 829.0,694.1 836.0,694.0 843.0,693.9 850.0,693.8 857.0,693.8 864.0,693.8 871.0,693.8 878.2,693.9 885.5,694.1 893.0,694.3 900.7,694.5 908.7,694.7 917.0,695.0 925.6,695.3 934.3,695.7 943.1,696.2 951.9,696.7 960.7,697.2 969.4,697.7 977.8,698.2 986.0,698.7 993.9,699.1 1001.5,699.6 1008.6,700.1 1015.4,700.7 1022.0,701.3 1028.4,701.8 1034.6,702.4 1040.7,702.9 1046.7,703.5 1052.7,704.1 1058.6,704.7 1064.6,705.3 1070.7,705.9 1076.9,706.6 1083.2,707.3 1089.5,708.0 1095.8,708.7 1102.1,709.4 1108.4,710.1 1114.7,710.9 1121.0,711.7 1127.4,712.5 1133.7,713.4 1140.1,714.3 1146.5,715.2 1152.9,716.2 1159.2,717.3 1165.5,718.4 1171.7,719.6 1178.0,720.8 1184.2,722.0 1190.4,723.3 1196.7,724.6 1203.0,726.0 1209.4,727.4 1215.8,728.8 1222.3,730.4 1229.0,732.0 1235.7,733.7 1242.6,735.4 1249.5,737.3 1256.5,739.2 1263.5,741.2 1270.5,743.1 1277.5,745.2 1284.5,747.2 1291.5,749.2 1298.5,751.2 1305.4,753.1 1312.3,755.1 1320.3,725.1 1313.3,723.6 1306.4,722.1 1299.4,720.5 1292.3,718.9 1285.1,717.3 1278.0,715.6 1270.8,714.0 1263.6,712.5 1256.3,710.9 1249.1,709.4 1242.0,708.0 1234.9,706.6 1228.0,705.3 1221.3,704.1 1214.6,702.9 1208.1,701.7 1201.5,700.6 1195.1,699.6 1188.6,698.6 1182.2,697.6 1175.8,696.7 1169.3,695.9 1162.9,695.0 1156.4,694.2 1149.8,693.2 1143.3,692.2 1136.7,691.3 1130.2,690.5 1123.8,689.7 1117.3,688.9 1110.9,688.1 1104.5,687.4 1098.2,686.7 1091.8,686.1 1085.6,685.4 1079.3,684.7 1073.0,684.1 1066.8,683.4 1060.8,682.8 1054.7,682.2 1048.7,681.7 1042.6,681.1 1036.5,680.6 1030.2,680.0 1023.8,679.5 1017.2,678.9 1010.3,678.4 1003.1,677.8 995.6,677.5 987.7,677.1 979.5,676.6 971.0,676.2 962.3,675.7 953.5,675.3 944.6,674.9 935.7,674.5 926.9,674.2 918.2,673.9 909.7,673.7 901.5,673.5 893.7,673.4 886.1,673.3 878.7,673.2 871.4,673.2 864.2,673.2 857.1,673.3 850.0,673.4 842.9,673.5 835.8,673.7 828.6,674.0 821.3,674.3 813.8,674.6 806.1,674.9 798.1,675.2 790.1,675.7 782.1,676.2 774.1,676.7 766.1,677.2 758.3,677.8 750.6,678.4 743.1,678.9 736.0,679.4 729.2,679.9 722.7,680.3 716.6,681.8 710.7,683.2 704.9,684.6 699.3,686.0 693.8,687.4 688.5,688.8 683.2,690.2 678.0,691.6 672.9,693.0 667.9,694.5 662.9,696.0 658.0,697.5 653.1,698.4 648.4,699.3 643.9,700.2 639.5,701.2 635.3,702.1 631.1,703.1 627.1,704.1 623.1,705.1 619.1,706.1 615.2,707.1 611.3,708.2 607.3,709.2 603.2,710.2 599.0,711.2 594.8,712.2 590.6,713.3 586.5,714.3 582.4,715.4 578.4,716.4 574.5,717.4 570.8,718.4 567.2,719.4 563.9,720.3 560.7,721.2 557.8,721.8 555.0,722.3 552.4,722.8 550.0,723.2 547.7,723.6 545.4,724.1 543.2,724.5 541.0,724.9 538.8,725.3 536.5,725.7 534.2,726.2 531.8,726.7 529.4,727.1 526.9,727.4 524.5,727.8 522.0,728.2 519.6,728.6 517.1,729.0 514.6,729.5 512.1,729.9 509.6,730.3 507.1,730.8 504.6,731.3 502.0,731.8 499.5,732.4 497.0,732.9 494.5,733.5 492.0,734.1 489.5,734.7 487.0,735.3 484.5,735.9 482.1,736.5 479.6,737.1 477.2,737.7 474.7,738.4 472.3,739.0 469.9,739.7 467.5,740.3 465.0,741.0 462.6,741.7 460.1,742.4 457.6,743.1 455.2,743.8 452.7,744.5 450.1,745.3 447.6,746.1 445.1,746.9 442.6,747.7 440.1,748.6 437.7,749.4 435.3,750.3 432.8,751.2 430.3,752.1 427.8,753.1 425.2,754.0 422.7,755.1 420.1,756.2 417.4,757.3 414.8,758.5 412.1,759.8 409.5,761.2 407.1,762.5 404.8,763.8 402.6,765.2 400.5,766.5 398.4,767.9 396.2,769.3 394.0,770.7 391.5,772.3 388.9,773.9 385.9,775.7 382.6,777.7 379.0,780.0 375.1,782.6 370.8,785.2 366.2,788.0 361.4,790.9 356.4,794.0 351.3,797.2 346.0,800.4 340.8,803.8 335.5,807.3 330.2,810.8 325.2,814.4 320.2,817.9 315.4,821.4 310.5,824.8 305.7,828.3 300.8,831.9 295.9,835.7 290.9,839.6 285.7,843.8 280.4,848.2 274.8,852.9 269.1,858.0 263.1,863.5 256.4,869.1 249.5,875.1 242.2,881.6 234.8,888.4 227.2,895.4 219.4,902.7 211.7,910.0 203.9,917.5 196.2,924.9 188.7,932.2 181.4,939.4 174.3,946.4 167.9,953.8 161.6,961.1 155.5,968.4 149.4,975.7 143.5,983.0 137.6,990.2 131.8,997.5 125.9,1004.7 120.1,1011.9 114.3,1019.2 108.4,1026.4 102.5,1033.7" fill="url(#bgGreen)"/>
<polygon points="-8.0,700.0 -1.8,698.9 4.4,697.7 10.6,696.6 16.8,695.6 22.9,694.5 29.1,693.4 35.3,692.3 41.6,691.1 47.8,689.9 54.2,688.7 60.5,687.4 67.0,686.0 73.5,684.5 80.1,683.0 86.8,681.4 93.4,679.7 100.2,677.9 106.9,676.2 113.7,674.4 120.6,672.7 127.4,670.9 134.3,669.2 141.1,667.6 148.0,666.0 154.8,664.4 161.6,662.8 168.2,661.1 174.9,659.4 181.6,657.8 188.4,656.2 195.2,654.7 202.2,653.2 209.3,651.9 216.6,650.8 224.2,649.8 232.0,649.0 240.3,648.5 249.2,648.2 258.5,648.1 268.1,648.2 277.8,648.4 287.6,648.7 297.3,649.1 306.7,649.4 315.7,649.7 324.2,649.9 332.0,650.1 339.0,650.0 345.0,649.8 350.2,649.6 354.5,649.3 358.4,648.9 361.8,648.5 365.0,648.1 368.1,647.7 371.4,647.2 375.0,646.8 379.0,646.3 383.6,645.9 389.0,645.5 395.1,645.1 401.8,644.7 408.9,644.3 416.3,643.9 424.0,643.4 431.9,643.0 440.0,642.6 448.1,642.2 456.3,641.9 464.4,641.5 472.3,641.3 480.0,641.0 487.6,640.8 495.3,640.6 503.0,640.5 510.8,640.4 518.5,640.3 526.2,640.2 533.9,640.1 541.6,640.1 549.1,640.1 556.5,640.0 563.8,640.0 571.0,640.0 578.0,640.0 584.9,640.0 591.7,640.0 598.4,640.0 605.0,640.0 611.5,640.1 618.0,640.1 624.4,640.2 630.8,640.2 637.2,640.3 643.6,640.4 650.0,640.5 656.3,640.6 662.6,640.8 668.7,640.9 674.7,641.1 680.8,641.2 686.8,641.4 692.9,641.6 699.0,641.8 705.3,642.0 711.7,642.2 718.2,642.4 725.0,642.6 732.0,642.8 739.2,643.0 746.6,643.1 754.1,643.3 761.7,643.4 769.4,643.6 777.1,643.8 784.8,644.0 792.5,644.2 800.1,644.4 807.6,644.7 815.0,645.0 822.2,645.3 829.3,645.7 836.2,646.0 843.1,646.4 850.0,646.8 856.9,647.2 863.8,647.6 870.7,648.1 877.8,648.5 885.0,649.0 892.4,649.5 900.0,650.0 907.6,650.5 915.2,651.0 922.8,651.5 930.4,652.0 938.1,652.6 945.9,653.1 954.0,653.7 962.4,654.4 971.1,655.0 980.3,655.8 989.9,656.5 1000.0,657.4 1010.7,658.3 1022.0,659.3 1033.8,660.3 1046.0,661.3 1058.6,662.4 1071.4,663.5 1084.4,664.7 1097.6,665.9 1110.8,667.2 1124.0,668.5 1137.1,669.9 1150.0,671.3 1162.9,672.8 1175.9,674.4 1188.9,676.0 1202.1,677.7 1215.3,679.4 1228.5,681.2 1241.8,683.0 1255.0,684.8 1268.3,686.7 1281.6,688.5 1294.8,690.3 1308.0,692.0 1308.0,692.0 1294.8,690.3 1281.6,688.5 1268.3,686.7 1255.0,684.8 1241.8,683.0 1228.5,681.2 1215.3,679.4 1202.1,677.7 1188.9,676.0 1175.9,674.4 1162.9,672.8 1150.0,671.3 1137.1,669.9 1123.9,668.6 1110.8,667.3 1097.5,666.1 1084.4,664.9 1071.4,663.8 1058.5,662.7 1046.0,661.6 1033.8,660.6 1022.0,659.7 1010.7,658.8 1000.0,657.9 989.8,657.3 980.2,656.7 971.0,656.2 962.3,655.7 953.9,655.3 945.8,654.9 937.9,654.5 930.2,654.2 922.6,653.9 915.0,653.6 907.5,653.3 899.8,653.0 892.2,652.6 884.8,652.2 877.6,651.8 870.5,651.4 863.6,651.0 856.7,650.7 849.8,650.4 842.9,650.0 836.1,649.8 829.1,649.5 822.0,649.2 814.8,649.0 807.5,648.7 800.0,648.4 792.4,648.2 784.7,647.9 777.0,647.7 769.3,647.5 761.6,647.3 754.0,647.1 746.5,647.0 739.1,646.8 731.9,646.6 724.9,646.4 718.1,646.2 711.6,646.0 705.2,645.9 698.9,645.7 692.8,645.5 686.7,645.3 680.7,645.2 674.6,645.0 668.6,644.9 662.5,644.7 656.3,644.6 649.9,644.5 643.5,644.6 637.1,644.6 630.8,644.7 624.4,644.8 617.9,644.9 611.5,645.1 604.9,645.2 598.4,645.3 591.7,645.5 584.9,645.6 578.0,645.8 571.0,646.0 563.9,646.3 556.5,646.5 549.1,646.8 541.6,647.1 534.0,647.4 526.3,647.7 518.6,648.0 510.9,648.4 503.2,648.7 495.5,649.1 487.8,649.5 480.3,650.0 472.6,650.6 464.7,651.2 456.7,651.9 448.6,652.6 440.5,653.3 432.5,654.0 424.6,654.8 416.9,655.5 409.6,656.3 402.5,657.0 395.9,657.8 389.9,658.5 384.7,659.2 380.3,659.9 376.6,660.7 373.3,661.4 370.2,662.2 367.0,663.0 363.7,663.7 360.0,664.5 355.8,665.2 351.1,665.9 345.7,666.5 339.3,667.0 331.9,667.0 323.9,666.8 315.2,666.5 306.1,666.1 296.7,665.6 287.1,665.2 277.4,664.8 267.8,664.5 258.5,664.4 249.5,664.4 241.1,664.5 233.3,664.9 226.0,665.8 219.0,666.9 212.1,668.2 205.4,669.6 198.8,671.1 192.2,672.8 185.7,674.5 179.1,676.3 172.5,678.1 165.8,679.9 158.9,681.8 152.0,683.5 145.3,685.4 138.7,687.4 132.0,689.4 125.3,691.4 118.7,693.5 112.0,695.5 105.2,697.6 98.5,699.7 91.8,701.7 85.1,703.7 78.4,705.6 71.7,707.5 65.1,709.1 58.5,710.6 52.1,712.0 45.7,713.4 39.4,714.7 33.2,716.0 27.0,717.3 20.8,718.5 14.7,719.8 8.6,721.0 2.5,722.3 -3.7,723.6" fill="url(#bgBlue)"/>
<polygon points="-3.7,723.6 2.5,722.3 8.6,721.0 14.7,719.8 20.8,718.5 27.0,717.3 33.2,716.0 39.4,714.7 45.7,713.4 52.1,712.0 58.5,710.6 65.1,709.1 71.7,707.5 78.4,705.6 85.1,703.7 91.8,701.7 98.5,699.7 105.2,697.6 112.0,695.5 118.7,693.5 125.3,691.4 132.0,689.4 138.7,687.4 145.3,685.4 152.0,683.5 158.9,681.8 165.8,679.9 172.5,678.1 179.1,676.3 185.7,674.5 192.2,672.8 198.8,671.1 205.4,669.6 212.1,668.2 219.0,666.9 226.0,665.8 233.3,664.9 241.1,664.5 249.5,664.4 258.5,664.4 267.8,664.5 277.4,664.8 287.1,665.2 296.7,665.6 306.1,666.1 315.2,666.5 323.9,666.8 331.9,667.0 339.3,667.0 345.7,666.5 351.1,665.9 355.8,665.2 360.0,664.5 363.7,663.7 367.0,663.0 370.2,662.2 373.3,661.4 376.6,660.7 380.3,659.9 384.7,659.2 389.9,658.5 395.9,657.8 402.5,657.0 409.6,656.3 416.9,655.5 424.6,654.8 432.5,654.0 440.5,653.3 448.6,652.6 456.7,651.9 464.7,651.2 472.6,650.6 480.3,650.0 487.8,649.5 495.5,649.1 503.2,648.7 510.9,648.4 518.6,648.0 526.3,647.7 534.0,647.4 541.6,647.1 549.1,646.8 556.5,646.5 563.9,646.3 571.0,646.0 578.0,645.8 584.9,645.6 591.7,645.5 598.4,645.3 604.9,645.2 611.5,645.1 617.9,644.9 624.4,644.8 630.8,644.7 637.1,644.6 643.5,644.6 649.9,644.5 656.3,644.6 662.5,644.7 668.6,644.9 674.6,645.0 680.7,645.2 686.7,645.3 692.8,645.5 698.9,645.7 705.2,645.9 711.6,646.0 718.1,646.2 724.9,646.4 731.9,646.6 739.1,646.8 746.5,647.0 754.0,647.1 761.6,647.3 769.3,647.5 777.0,647.7 784.7,647.9 792.4,648.2 800.0,648.4 807.5,648.7 814.8,649.0 822.0,649.2 829.1,649.5 836.1,649.8 842.9,650.0 849.8,650.4 856.7,650.7 863.6,651.0 870.5,651.4 877.6,651.8 884.8,652.2 892.2,652.6 899.8,653.0 907.5,653.3 915.0,653.6 922.6,653.9 930.2,654.2 937.9,654.5 945.8,654.9 953.9,655.3 962.3,655.7 971.0,656.2 980.2,656.7 989.8,657.3 1000.0,657.9 1010.7,658.8 1022.0,659.7 1033.8,660.6 1046.0,661.6 1058.5,662.7 1071.4,663.8 1084.4,664.9 1097.5,666.1 1110.8,667.3 1123.9,668.6 1137.1,669.9 1150.0,671.3 1162.9,672.8 1175.9,674.4 1188.9,676.0 1202.1,677.7 1215.3,679.4 1228.5,681.2 1241.8,683.0 1255.0,684.8 1268.3,686.7 1281.6,688.5 1294.8,690.3 1308.0,692.0 1308.0,692.0 1294.8,690.3 1281.6,688.5 1268.3,686.7 1255.0,684.8 1241.8,683.0 1228.5,681.2 1215.3,679.4 1202.1,677.7 1188.9,676.0 1175.9,674.4 1162.9,672.8 1150.0,671.3 1137.1,670.0 1123.9,668.7 1110.7,667.4 1097.5,666.3 1084.4,665.1 1071.3,664.0 1058.5,663.0 1045.9,662.0 1033.7,661.0 1021.9,660.1 1010.6,659.2 999.9,658.4 989.8,657.9 980.1,657.4 971.0,657.0 962.2,656.7 953.8,656.4 945.7,656.1 937.8,655.9 930.1,655.7 922.5,655.5 914.9,655.3 907.3,655.2 899.7,655.0 892.1,654.7 884.7,654.5 877.4,654.2 870.4,654.0 863.4,653.8 856.5,653.6 849.6,653.5 842.8,653.3 835.9,653.2 828.9,653.1 821.9,653.0 814.7,652.9 807.3,652.9 799.8,652.9 792.2,653.0 784.6,653.1 776.9,653.2 769.2,653.3 761.5,653.4 753.9,653.5 746.3,653.6 738.9,653.8 731.7,653.9 724.7,654.0 717.9,654.2 711.3,654.4 704.9,654.6 698.6,654.7 692.5,654.9 686.4,655.1 680.4,655.3 674.3,655.5 668.3,655.8 662.2,656.0 656.0,656.2 649.7,656.5 643.3,657.0 637.0,657.5 630.6,658.0 624.2,658.5 617.8,659.0 611.4,659.6 604.9,660.1 598.3,660.7 591.7,661.2 584.9,661.8 578.1,662.4 571.1,663.0 563.9,663.4 556.6,663.7 549.2,664.1 541.7,664.4 534.1,664.8 526.5,665.2 518.8,665.6 511.1,666.0 503.5,666.5 495.9,666.9 488.3,667.4 480.8,668.0 473.2,668.5 465.4,669.0 457.5,669.6 449.4,670.2 441.4,670.8 433.4,671.5 425.6,672.2 417.9,672.8 410.6,673.5 403.6,674.2 397.0,674.8 391.0,675.4 386.0,676.0 382.0,676.5 378.5,677.0 375.4,677.6 372.4,678.2 369.2,678.8 365.6,679.4 361.6,680.1 357.1,680.7 352.0,681.2 346.3,681.6 339.6,682.0 331.9,681.7 323.6,681.3 314.8,680.7 305.6,680.1 296.2,679.4 286.6,678.7 277.1,678.1 267.6,677.5 258.4,677.1 249.7,676.8 241.6,676.8 234.3,676.9 227.4,677.6 220.6,678.5 214.0,679.5 207.5,680.7 201.1,682.0 194.7,683.5 188.2,685.0 181.7,686.6 175.0,688.3 168.2,690.0 161.3,691.7 154.3,693.3 147.6,695.2 141.1,697.1 134.5,699.1 127.8,701.1 121.2,703.1 114.5,705.2 107.7,707.3 101.0,709.4 94.2,711.4 87.4,713.4 80.6,715.4 73.8,717.3 67.4,720.3 61.1,723.3 54.8,726.3 48.7,729.1 42.6,731.9 36.5,734.7 30.5,737.5 24.6,740.2 18.8,742.9 13.0,745.6 7.2,748.4 1.4,751.1" fill="url(#bgGreen)"/>
<path d="M67,688 L339,682 L402,862 L-30,868 Z" fill="url(#bgGround)"/></g>
<g transform="translate(20,130) scale(0.2901)">
<!-- cart -->
<rect x="470" y="518" width="285" height="228" fill="#f7b84e"/>
<rect x="470" y="518" width="285" height="30" fill="#d9952b"/>
<rect x="500" y="600" width="240" height="22" fill="#eaa63a"/>
<rect x="520" y="676" width="185" height="18" fill="#eaa63a"/>
<!-- wheel -->
<circle cx="565" cy="738" r="92" fill="#fbd58a" stroke="#8b8b8b" stroke-width="22"/>
<g stroke="#e9e9e9" stroke-width="8"><line x1="565" y1="655" x2="565" y2="820"/><line x1="483" y1="738" x2="648" y2="738"/><line x1="507" y1="680" x2="623" y2="796"/><line x1="507" y1="796" x2="623" y2="680"/></g>
<circle cx="565" cy="738" r="22" fill="#a9a9a9"/>
<!-- sticks on top of hay -->
<g stroke="#ffd466" stroke-width="17" stroke-linecap="butt"><line x1="285" y1="300" x2="185" y2="208"/><line x1="285" y1="300" x2="285" y2="178"/><line x1="290" y1="300" x2="388" y2="208"/></g>
<!-- haystack -->
<path d="M45,820 C20,640 110,350 285,288 C430,340 545,610 530,820 Z" fill="#ffd466"/>
<g fill="#fbb72b">
<path d="M175,412 l45,-38 l22,24 l-45,38z"/><rect x="268" y="380" width="34" height="82"/><path d="M335,395 l30,-18 l95,125 l-32,20z"/>
<path d="M118,488 l38,8 l-42,120 l-36,-10z"/><path d="M190,520 l50,-62 l28,20 l-46,66z"/><path d="M360,550 l32,-10 l20,100 l-34,6z"/>
<rect x="165" y="595" width="36" height="62"/><rect x="268" y="598" width="36" height="102"/><rect x="465" y="650" width="34" height="92"/><rect x="72" y="685" width="36" height="56"/>
</g>
<!-- hay on fork -->
<g stroke="#ffd466" stroke-width="9" fill="none">
<path d="M330,300 L470,235 L540,70"/><path d="M345,315 L478,240 L575,65"/><path d="M365,330 L485,245 L605,65"/><path d="M385,345 L490,250 L630,75"/><path d="M410,355 L495,255 L640,100"/><path d="M430,360 L500,260 L640,130"/><path d="M330,285 L465,228 L520,80"/><path d="M350,300 L505,265 L630,160"/>
</g>
<!-- fork -->
<g stroke="#8c8c8c" stroke-width="9" fill="none" stroke-linecap="round"><path d="M470,268 L495,282 L548,240 L535,210"/><path d="M505,262 L480,240"/><path d="M525,250 L500,225"/><line x1="520" y1="265" x2="538" y2="270"/></g>
<g stroke="#d9d9d9" stroke-width="5"><line x1="412" y1="215" x2="432" y2="232"/><line x1="437" y1="190" x2="455" y2="210"/><line x1="460" y1="170" x2="475" y2="190"/><line x1="482" y1="155" x2="495" y2="175"/></g>
<!-- handle back part -->
<line x1="533" y1="266" x2="885" y2="618" stroke="#e04a26" stroke-width="12" stroke-linecap="round"/>
<!-- farmer legs / overalls -->
<path d="M752,440 L905,440 L935,725 L868,725 L832,590 L808,725 L748,725 Z" fill="#e8541f"/>
<!-- shirt -->
<path d="M760,318 C800,300 860,300 900,318 C940,350 945,420 915,445 L800,515 L770,490 L860,420 L760,440 L700,410 L675,398 L690,380 L760,340 Z" fill="#6ec58c"/>
<path d="M760,318 L900,318 L905,445 L752,445 Z" fill="#6ec58c"/>
<!-- bib -->
<path d="M778,418 L880,418 L885,445 L905,520 L752,520 L752,445 Z" fill="#e8541f"/>
<rect x="808" y="462" width="62" height="58" fill="#d9431a"/>
<g stroke="#d9431a" stroke-width="7" fill="none"><line x1="788" y1="330" x2="790" y2="430"/><line x1="857" y1="330" x2="855" y2="430"/></g>
<!-- arm right (our right) sleeve -->
<path d="M895,320 C945,350 945,425 915,448 L800,518 L775,492 L865,425 Z" fill="#6ec58c"/>
<path d="M905,360 C915,390 910,415 895,430" stroke="#8fd6a6" stroke-width="7" fill="none"/>
<!-- hands -->
<rect x="655" y="390" width="40" height="40" rx="12" fill="#fbd4a8" transform="rotate(-30 675 410)"/>
<rect x="758" y="495" width="40" height="40" rx="12" fill="#fbd4a8" transform="rotate(-30 778 515)"/>
<line x1="778" y1="512" x2="885" y2="618" stroke="#e04a26" stroke-width="12" stroke-linecap="round"/>
<rect x="758" y="495" width="40" height="40" rx="12" fill="#fbd4a8" transform="rotate(-30 778 515)"/>
<!-- boots -->
<path d="M748,725 L808,725 L808,835 L742,835 Z" fill="#7b3c26"/>
<path d="M872,725 L935,725 L958,835 L892,835 Z" fill="#7b3c26"/>
<!-- head -->
<path d="M770,238 L880,238 L880,300 C880,330 850,342 825,342 C800,342 770,330 770,300 Z" fill="#fbd4a8"/>
<path d="M698,238 L825,150 L948,238 Z" fill="#f3b66c"/>
</g>
<g transform="translate(0,560) scale(0.40619)"><path d="M560,330 C470,380 360,420 352,470 C345,540 520,520 545,600 C560,680 420,740 330,800 L480,800 C560,740 640,690 620,600 C600,530 480,500 470,470 C470,430 540,380 600,345 Z" fill="#f6dcc0"/>
<path d="M585,340 C540,365 505,385 495,400 L520,405 C540,390 560,375 600,350 Z" fill="#2a9fe6"/>
<path d="M497,478 C560,520 600,540 640,560 L640,585 C580,560 540,530 497,495 Z" fill="#2a9fe6"/>
<path d="M640,560 C700,585 760,550 788,540 C830,548 880,530 913,512 L940,608 L795,600 L640,585 Z" fill="#1f9fe8"/>
<path d="M140,335 C210,265 290,238 365,242 C450,238 520,216 600,212 L702,238 L702,335 Z" fill="#4db863"/>
<path d="M300,340 C400,290 500,262 600,258 L600,345 L300,365 Z" fill="#86cf86"/>
<ellipse cx="835" cy="490" rx="50" ry="32" fill="#35b56a"/>
<ellipse cx="265" cy="565" rx="50" ry="30" fill="#35b56a"/>
<ellipse cx="520" cy="415" rx="28" ry="24" fill="#b7e08a"/>
<ellipse cx="540" cy="385" rx="20" ry="10" fill="#3db35e"/>
<rect x="168" y="283" width="38" height="80" fill="#fbfbfb"/>
<path d="M163,285 L187,260 L210,285 Z" fill="#d8334a"/>
<rect x="195" y="325" width="52" height="42" fill="#fbfbfb"/>
<path d="M190,327 L205,302 L248,302 L248,327 Z" fill="#e03c52"/>
<rect x="176" y="292" width="14" height="20" fill="#a9d8f3"/>
<rect x="205" y="335" width="14" height="16" fill="#a9d8f3"/>
<rect x="225" y="335" width="14" height="16" fill="#a9d8f3"/>
<rect x="174" y="340" width="14" height="22" fill="#e8a0a0"/>
<path d="M248,208 L315,208 L348,250 L348,412 L248,412 Z" fill="#8b90d2"/>
<path d="M315,208 L348,250 L348,412 L340,412 L340,255 L312,212 Z" fill="#7075b8"/>
<rect x="256" y="232" width="50" height="12" fill="#a9d8f3"/>
<rect x="256" y="264" width="82" height="12" fill="#a9d8f3"/>
<rect x="256" y="296" width="82" height="12" fill="#a9d8f3"/>
<rect x="256" y="328" width="82" height="12" fill="#a9d8f3"/>
<rect x="256" y="360" width="82" height="12" fill="#a9d8f3"/>
<rect x="268" y="385" width="50" height="27" fill="#a9d8f3"/>
<rect x="365" y="152" width="96" height="205" fill="#f07fb2"/>
<rect x="365" y="152" width="96" height="6" fill="#f7a6cb"/>
<rect x="377" y="180" width="9" height="165" fill="#a9d8f3"/>
<rect x="393" y="180" width="9" height="165" fill="#a9d8f3"/>
<rect x="409" y="180" width="9" height="165" fill="#a9d8f3"/>
<rect x="425" y="180" width="9" height="165" fill="#a9d8f3"/>
<rect x="441" y="180" width="9" height="165" fill="#a9d8f3"/>
<rect x="583" y="100" width="99" height="268" fill="#fbf06a"/>
<rect x="598" y="88" width="70" height="13" fill="#f9c864"/>
<rect x="583" y="100" width="99" height="6" fill="#f4e050"/>
<rect x="594" y="128" width="77" height="7" fill="#a9d8f3"/>
<rect x="594" y="147" width="77" height="7" fill="#a9d8f3"/>
<rect x="594" y="166" width="77" height="7" fill="#a9d8f3"/>
<rect x="594" y="185" width="77" height="7" fill="#a9d8f3"/>
<rect x="594" y="204" width="77" height="7" fill="#a9d8f3"/>
<rect x="594" y="223" width="77" height="7" fill="#a9d8f3"/>
<rect x="594" y="242" width="77" height="7" fill="#a9d8f3"/>
<rect x="594" y="261" width="77" height="7" fill="#a9d8f3"/>
<rect x="594" y="280" width="77" height="7" fill="#a9d8f3"/>
<rect x="594" y="299" width="77" height="7" fill="#a9d8f3"/>
<rect x="594" y="318" width="77" height="7" fill="#a9d8f3"/>
<rect x="594" y="337" width="77" height="7" fill="#a9d8f3"/>
<rect x="720" y="198" width="90" height="16" fill="#9a9c9e"/>
<rect x="702" y="212" width="126" height="186" fill="#8a8c8f"/>
<rect x="716" y="232" width="100" height="14" fill="#a9d8f3"/>
<rect x="716" y="265" width="100" height="14" fill="#a9d8f3"/>
<rect x="716" y="298" width="100" height="14" fill="#a9d8f3"/>
<rect x="716" y="331" width="100" height="14" fill="#a9d8f3"/>
<rect x="716" y="364" width="100" height="14" fill="#a9d8f3"/>
<rect x="600" y="358" width="92" height="62" fill="#f6a6c6"/>
<path d="M595,360 L645,322 L696,360 Z" fill="#e2447e"/>
<path d="M606,360 L645,332 L686,360 Z" fill="#f6a6c6"/>
<rect x="612" y="366" width="14" height="14" fill="#a9d8f3"/>
<rect x="634" y="366" width="14" height="14" fill="#a9d8f3"/>
<rect x="656" y="366" width="14" height="14" fill="#a9d8f3"/>
<rect x="650" y="395" width="14" height="14" fill="#a9d8f3"/>
<rect x="672" y="395" width="14" height="14" fill="#a9d8f3"/>
<rect x="537" y="398" width="98" height="72" fill="#f8efd2"/>
<path d="M535,400 L580,372 L640,400 Z" fill="#6a6b72"/>
<rect x="533" y="425" width="104" height="9" fill="#77787e"/>
<rect x="548" y="404" width="16" height="14" fill="#a9d8f3"/>
<rect x="574" y="404" width="16" height="14" fill="#a9d8f3"/>
<rect x="606" y="404" width="16" height="14" fill="#a9d8f3"/>
<rect x="552" y="440" width="30" height="20" fill="#a9d8f3"/>
<rect x="586" y="445" width="12" height="24" fill="#a97c50"/>
<rect x="730" y="393" width="125" height="72" fill="#f8efd2"/>
<path d="M728,395 L752,362 L776,395 Z" fill="#b23467"/>
<path d="M770,395 L855,395 L855,420 L776,420 Z" fill="#c04a7a"/>
<rect x="785" y="432" width="11" height="20" rx="5" fill="#a9d8f3"/>
<rect x="802" y="432" width="11" height="20" rx="5" fill="#a9d8f3"/>
<rect x="819" y="432" width="11" height="20" rx="5" fill="#a9d8f3"/>
<rect x="836" y="432" width="11" height="20" rx="5" fill="#a9d8f3"/>
<rect x="746" y="400" width="11" height="20" rx="5" fill="#a9d8f3"/><rect x="754" y="432" width="11" height="20" rx="5" fill="#a9d8f3"/>
<rect x="133" y="385" width="88" height="62" fill="#f6e7a6"/>
<path d="M128,392 L150,362 L215,362 L224,392 Z" fill="#8c5a46"/>
<circle cx="153" cy="381" r="9" fill="#f6e7a6"/><circle cx="200" cy="381" r="9" fill="#f6e7a6"/>
<rect x="160" y="415" width="16" height="30" fill="#b9824e"/>
<rect x="140" y="415" width="12" height="16" fill="#a9d8f3"/>
<rect x="190" y="415" width="12" height="16" fill="#a9d8f3"/>
<ellipse cx="246" cy="385" rx="17" ry="22" fill="#4cbf6b"/>
<rect x="244" y="400" width="4" height="18" fill="#8a6a3a"/>
<ellipse cx="360" cy="355" rx="12" ry="22" fill="#9ad68a"/>
<rect x="85" y="468" width="110" height="30" fill="#fdf7c4"/>
<rect x="190" y="428" width="160" height="118" fill="#fdf7c4"/>
<rect x="190" y="428" width="160" height="5" fill="#f3e9a8"/>
<rect x="204" y="448" width="16" height="20" fill="#a9d8f3"/>
<rect x="200" y="466" width="24" height="5" fill="#7fcf9a"/>
<rect x="239" y="448" width="16" height="20" fill="#a9d8f3"/>
<rect x="235" y="466" width="24" height="5" fill="#7fcf9a"/>
<rect x="274" y="448" width="16" height="20" fill="#a9d8f3"/>
<rect x="270" y="466" width="24" height="5" fill="#7fcf9a"/>
<rect x="309" y="448" width="16" height="20" fill="#a9d8f3"/>
<rect x="305" y="466" width="24" height="5" fill="#7fcf9a"/>
<rect x="204" y="484" width="16" height="20" fill="#a9d8f3"/>
<rect x="200" y="502" width="24" height="5" fill="#7fcf9a"/>
<rect x="239" y="484" width="16" height="20" fill="#a9d8f3"/>
<rect x="235" y="502" width="24" height="5" fill="#7fcf9a"/>
<rect x="274" y="484" width="16" height="20" fill="#a9d8f3"/>
<rect x="270" y="502" width="24" height="5" fill="#7fcf9a"/>
<rect x="309" y="484" width="16" height="20" fill="#a9d8f3"/>
<rect x="305" y="502" width="24" height="5" fill="#7fcf9a"/>
<rect x="204" y="520" width="16" height="20" fill="#a9d8f3"/>
<rect x="200" y="538" width="24" height="5" fill="#7fcf9a"/>
<rect x="239" y="520" width="16" height="20" fill="#a9d8f3"/>
<rect x="235" y="538" width="24" height="5" fill="#7fcf9a"/>
<rect x="274" y="520" width="16" height="20" fill="#a9d8f3"/>
<rect x="270" y="538" width="24" height="5" fill="#7fcf9a"/>
<rect x="309" y="520" width="16" height="20" fill="#a9d8f3"/>
<rect x="305" y="538" width="24" height="5" fill="#7fcf9a"/>
<rect x="388" y="348" width="109" height="254" fill="#f5a47c"/>
<rect x="388" y="348" width="109" height="6" fill="#fbc4a2"/>
<rect x="402" y="374" width="17" height="20" fill="#a9d8f3"/>
<rect x="433" y="374" width="17" height="20" fill="#a9d8f3"/>
<rect x="464" y="374" width="17" height="20" fill="#a9d8f3"/>
<rect x="402" y="410" width="17" height="20" fill="#a9d8f3"/>
<rect x="433" y="410" width="17" height="20" fill="#a9d8f3"/>
<rect x="464" y="410" width="17" height="20" fill="#a9d8f3"/>
<rect x="402" y="446" width="17" height="20" fill="#a9d8f3"/>
<rect x="433" y="446" width="17" height="20" fill="#a9d8f3"/>
<rect x="464" y="446" width="17" height="20" fill="#a9d8f3"/>
<rect x="402" y="482" width="17" height="20" fill="#a9d8f3"/>
<rect x="433" y="482" width="17" height="20" fill="#a9d8f3"/>
<rect x="464" y="482" width="17" height="20" fill="#a9d8f3"/>
<rect x="402" y="518" width="17" height="20" fill="#a9d8f3"/>
<rect x="433" y="518" width="17" height="20" fill="#a9d8f3"/>
<rect x="464" y="518" width="17" height="20" fill="#a9d8f3"/>
<rect x="464" y="556" width="17" height="20" fill="#a9d8f3"/>
<path d="M20,490 L165,490 L195,500 L195,715 L165,730 L20,730 Z" fill="#1c7fd0"/>
<rect x="20" y="490" width="146" height="240" fill="#2397ea"/>
<path d="M20,490 L50,484 L195,484 L165,490 Z" fill="#6cc3f5"/>
<rect x="38" y="522" width="16" height="32" fill="#e4f1fb"/>
<rect x="74" y="522" width="16" height="32" fill="#e4f1fb"/>
<rect x="110" y="522" width="16" height="32" fill="#e4f1fb"/>
<rect x="146" y="522" width="16" height="32" fill="#e4f1fb"/>
<rect x="38" y="572" width="16" height="32" fill="#e4f1fb"/>
<rect x="74" y="572" width="16" height="32" fill="#e4f1fb"/>
<rect x="110" y="572" width="16" height="32" fill="#e4f1fb"/>
<rect x="146" y="572" width="16" height="32" fill="#e4f1fb"/>
<rect x="38" y="622" width="16" height="32" fill="#e4f1fb"/>
<rect x="74" y="622" width="16" height="32" fill="#e4f1fb"/>
<rect x="110" y="622" width="16" height="32" fill="#e4f1fb"/>
<rect x="146" y="622" width="16" height="32" fill="#e4f1fb"/>
<rect x="38" y="672" width="16" height="32" fill="#e4f1fb"/>
<rect x="74" y="672" width="16" height="32" fill="#e4f1fb"/>
<rect x="110" y="672" width="16" height="32" fill="#e4f1fb"/>
<rect x="146" y="672" width="16" height="32" fill="#e4f1fb"/>
<rect x="62" y="670" width="74" height="60" fill="#2397ea"/>
<path d="M62,680 C70,660 128,660 136,680 Z" fill="#f2f6fb"/>
<rect x="72" y="680" width="54" height="46" fill="#cfe7f7"/>
<rect x="68" y="678" width="6" height="50" fill="#f2f6fb"/>
<rect x="124" y="678" width="6" height="50" fill="#f2f6fb"/>
<rect x="315" y="528" width="148" height="34" fill="#fafafa"/>
<rect x="340" y="560" width="122" height="82" fill="#f4f4f4"/>
<rect x="315" y="528" width="148" height="6" fill="#e3e3e3"/>
<rect x="348" y="552" width="26" height="24" fill="#a9d8f3"/>
<rect x="395" y="556" width="20" height="20" fill="#a9d8f3"/>
<rect x="425" y="556" width="20" height="20" fill="#a9d8f3"/>
<rect x="412" y="600" width="28" height="40" fill="#8d8d8d"/>
<rect x="370" y="598" width="22" height="36" fill="#a9d8f3"/>
<rect x="222" y="605" width="146" height="106" fill="#f3dcc6"/>
<path d="M218,607 L240,570 L348,570 L372,607 Z" fill="#8b7a5c"/>
<rect x="222" y="650" width="146" height="8" fill="#c79a7a"/>
<rect x="222" y="690" width="146" height="21" fill="#d9a58a"/>
<rect x="238" y="620" width="20" height="24" fill="#a9d8f3"/>
<rect x="282" y="620" width="20" height="24" fill="#a9d8f3"/>
<rect x="326" y="620" width="20" height="24" fill="#a9d8f3"/>
<rect x="232" y="620" width="6" height="24" fill="#d6b48c"/>
<rect x="276" y="620" width="6" height="24" fill="#d6b48c"/>
<rect x="320" y="620" width="6" height="24" fill="#d6b48c"/>
<rect x="236" y="672" width="28" height="22" fill="#a9d8f3"/>
<rect x="283" y="672" width="18" height="38" fill="#6b6b6b"/>
<rect x="322" y="672" width="28" height="22" fill="#a9d8f3"/>
<rect x="222" y="700" width="46" height="12" fill="#9fb7a0"/>
<rect x="318" y="700" width="50" height="12" fill="#9fb7a0"/>
<ellipse cx="345" cy="715" rx="22" ry="11" fill="#3cb85c" transform="rotate(-25 345 715)"/>
<ellipse cx="398" cy="690" rx="22" ry="11" fill="#3cb85c" transform="rotate(-25 398 690)"/>
<ellipse cx="448" cy="660" rx="22" ry="11" fill="#3cb85c" transform="rotate(-25 448 660)"/>
<ellipse cx="515" cy="730" rx="22" ry="11" fill="#3cb85c" transform="rotate(-25 515 730)"/>
<ellipse cx="548" cy="695" rx="22" ry="11" fill="#3cb85c" transform="rotate(-25 548 695)"/>
<ellipse cx="295" cy="732" rx="22" ry="11" fill="#3cb85c" transform="rotate(-25 295 732)"/>
<rect x="637" y="470" width="152" height="212" fill="#fbfbfb"/>
<path d="M630,474 L710,430 L792,474 Z" fill="#e2304c"/>
<rect x="760" y="474" width="29" height="208" fill="#ececec"/>
<rect x="664" y="490" width="18" height="28" rx="9" fill="#a9d8f3"/>
<rect x="660" y="514" width="26" height="4" fill="#b8a88a"/>
<rect x="708" y="490" width="18" height="28" rx="9" fill="#a9d8f3"/>
<rect x="704" y="514" width="26" height="4" fill="#b8a88a"/>
<rect x="752" y="490" width="18" height="28" rx="9" fill="#a9d8f3"/>
<rect x="748" y="514" width="26" height="4" fill="#b8a88a"/>
<rect x="664" y="538" width="18" height="28" rx="9" fill="#a9d8f3"/>
<rect x="660" y="562" width="26" height="4" fill="#b8a88a"/>
<rect x="708" y="538" width="18" height="28" rx="9" fill="#a9d8f3"/>
<rect x="704" y="562" width="26" height="4" fill="#b8a88a"/>
<rect x="752" y="538" width="18" height="28" rx="9" fill="#a9d8f3"/>
<rect x="748" y="562" width="26" height="4" fill="#b8a88a"/>
<rect x="664" y="586" width="18" height="28" rx="9" fill="#a9d8f3"/>
<rect x="660" y="610" width="26" height="4" fill="#b8a88a"/>
<rect x="708" y="586" width="18" height="28" rx="9" fill="#a9d8f3"/>
<rect x="704" y="610" width="26" height="4" fill="#b8a88a"/>
<rect x="752" y="586" width="18" height="28" rx="9" fill="#a9d8f3"/>
<rect x="748" y="610" width="26" height="4" fill="#b8a88a"/>
<rect x="752" y="634" width="18" height="28" rx="9" fill="#a9d8f3"/>
<rect x="748" y="658" width="26" height="4" fill="#b8a88a"/>
<path d="M698,640 L718,614 L738,640 Z" fill="#e2304c"/>
<path d="M704,640 L718,622 L732,640 Z" fill="#fbfbfb"/>
<rect x="708" y="642" width="20" height="32" fill="#9b7a5a"/>
<rect x="690" y="674" width="60" height="8" fill="#e8c8c0"/>
<rect x="560" y="630" width="130" height="106" fill="#f7e36e"/>
<path d="M556,632 L615,582 L694,634 L686,640 L615,596 L562,640 Z" fill="#6d6e74"/>
<path d="M562,640 L615,596 L690,642 Z" fill="#f7e36e"/>
<rect x="560" y="650" width="130" height="22" fill="#fbed9a"/>
<rect x="600" y="622" width="62" height="30" fill="#a9d8f3"/>
<rect x="640" y="685" width="42" height="46" fill="#a9d8f3"/>
<rect x="585" y="688" width="14" height="22" fill="#a9d8f3"/>
<rect x="605" y="688" width="14" height="22" fill="#a9d8f3"/>
<rect x="560" y="630" width="12" height="106" fill="#e3cc50"/>
<ellipse cx="773" cy="678" rx="26" ry="32" fill="#3cb85c"/>
<rect x="770" y="700" width="6" height="26" fill="#8a6a3a"/>
<ellipse cx="635" cy="448" rx="11" ry="16" fill="#2eaa6a"/>
<ellipse cx="690" cy="400" rx="13" ry="18" fill="#a8dc8a"/>
<rect x="795" y="598" width="120" height="62" fill="#e9edf6"/>
<rect x="782" y="655" width="158" height="80" fill="#eef1f8"/>
<rect x="782" y="655" width="158" height="10" fill="#dfe4f0"/>
<rect x="795" y="596" width="120" height="8" fill="#dfe4f0"/>
<rect x="815" y="618" width="14" height="16" fill="#aab4c8"/>
<rect x="842" y="618" width="36" height="22" fill="#a9d8f3"/>
<rect x="852" y="685" width="80" height="36" fill="#a9d8f3"/>
<rect x="812" y="685" width="30" height="46" fill="#cfd6e4"/>
<ellipse cx="868" cy="716" rx="12" ry="7" fill="#3aa86a"/>
<ellipse cx="895" cy="716" rx="12" ry="7" fill="#3aa86a"/>
<ellipse cx="922" cy="716" rx="12" ry="7" fill="#3aa86a"/>
<rect x="782" y="722" width="158" height="12" fill="#d5d9e6"/></g>
<path d="M-5,876 C30,862 90,852 147,862 C170,872 172,905 150,935 C110,975 40,980 -5,972 Z" fill="url(#bgLake)"/>
<g transform="translate(0,850) scale(0.2901)"><polygon points="15,422 530,730 920,500 560,300 250,300" fill="#dcdcdc"/>
<polygon points="15,422 60,398 535,690 880,470 920,500 530,730" fill="#dcdcdc"/>
<polygon points="15,422 530,730 530,742 15,434" fill="#c4c4c4"/>
<polygon points="530,730 920,500 920,512 530,742" fill="#d0d0d0"/>
<polygon points="48,312 150,360 245,500 245,522 48,415" fill="#5cb63a"/>
<polygon points="150,360 262,292 390,442 245,502" fill="#79c943"/>
<polygon points="245,502 398,440 530,515 408,612" fill="#83d04a"/>
<polygon points="245,502 408,612 408,640 245,526" fill="#5cb63a"/>
<polygon points="48,305 80,285 440,128 497,152 150,358" fill="#d4d4d4"/>
<polygon points="48,305 150,358 150,368 48,316" fill="#bdbdbd"/>
<polygon points="222,212 378,132 445,165 290,246" fill="#4a9ade"/>
<polygon points="255,292 445,200 505,335 395,442 330,335" fill="#e4e4e4"/>
<polygon points="300,268 312,262 375,388 360,396" fill="#c2c2c2"/>
<polygon points="332,253 344,247 407,373 392,381" fill="#c2c2c2"/>
<polygon points="364,238 376,232 439,358 424,366" fill="#c2c2c2"/>
<polygon points="396,223 408,217 471,343 456,351" fill="#c2c2c2"/>
<polygon points="428,208 440,202 503,328 488,336" fill="#c2c2c2"/>
<polygon points="445,198 497,154 565,300 540,335" fill="#8fd552"/>
<polygon points="398,442 530,368 770,478 762,472 830,522 845,522 690,612 662,602 600,562 530,515" fill="#4a9ade"/>
<polygon points="540,338 578,312 800,420 762,445" fill="#83d04a"/>
<polygon points="540,338 762,445 762,458 540,350" fill="#5cb63a"/>
<polygon points="762,472 815,440 878,490 830,522" fill="#83d04a"/>
<polygon points="762,472 830,522 830,534 762,484" fill="#5cb63a"/>
<polygon points="470,642 600,562 662,602 532,690" fill="#83d04a"/>
<polygon points="470,642 532,690 532,702 470,654" fill="#5cb63a"/>
<polygon points="532,690 662,602 662,614 532,702" fill="#6cc040"/>
<rect x="490" y="600" width="12" height="46" fill="#d9d9d9"/>
<rect x="555" y="565" width="12" height="46" fill="#d9d9d9"/>
<rect x="620" y="528" width="12" height="46" fill="#d9d9d9"/>
<rect x="685" y="492" width="12" height="46" fill="#d9d9d9"/>
<rect x="748" y="458" width="12" height="46" fill="#d9d9d9"/>
<polygon points="405,606 800,388 828,404 432,626" fill="#6e6e6e"/>
<polygon points="405,606 800,388 804,391 409,609" fill="#bdbdbd"/>
<polygon points="428,622 824,402 828,404 432,626" fill="#bdbdbd"/>
<polygon points="405,606 432,626 432,636 405,616" fill="#8a8a8a"/>
<polygon points="642,486 668,470 684,478 658,495" fill="#f2c230"/>
<polygon points="650,480 664,472 672,476 658,484" fill="#fbe28a"/>
<polygon points="78,222 130,248 130,330 78,302" fill="#bfbfbf"/>
<polygon points="130,248 185,222 185,302 130,330" fill="#dadada"/>
<polygon points="78,222 132,196 185,222 130,248" fill="#2c8f9a"/>
<polygon points="90,222 132,202 172,222 130,242" fill="#4fb3bd"/>
<polygon points="188,240 215,254 215,300 188,286" fill="#bfbfbf"/>
<polygon points="215,254 252,236 252,282 215,300" fill="#dadada"/>
<polygon points="188,240 225,222 252,236 215,254" fill="#2c8f9a"/>
<rect x="90" y="250" width="9" height="14" fill="#6d7a88"/>
<rect x="142" y="268" width="9" height="13" fill="#6d7a88"/>
<rect x="106" y="258" width="9" height="14" fill="#6d7a88"/>
<rect x="160" y="260" width="9" height="13" fill="#6d7a88"/>
<rect x="90" y="274" width="9" height="14" fill="#6d7a88"/>
<rect x="142" y="290" width="9" height="13" fill="#6d7a88"/>
<rect x="106" y="282" width="9" height="14" fill="#6d7a88"/>
<rect x="160" y="282" width="9" height="13" fill="#6d7a88"/>
<rect x="160" y="118" width="32" height="100" fill="#c9c9c9"/><ellipse cx="176" cy="118" rx="16" ry="7" fill="#e2e2e2"/><rect x="180" y="118" width="12" height="100" fill="#b5b5b5"/>
<polygon points="460,330 500,350 500,378 460,358" fill="#bfbfbf"/>
<polygon points="500,350 540,330 540,358 500,378" fill="#dadada"/>
<polygon points="460,330 500,310 540,330 500,350" fill="#2c8f9a"/>
<g stroke="#d2d2d2" stroke-width="3" fill="none"><path d="M268,400 L272,330 M262,345 L282,340"/><path d="M552,300 L556,225 M544,240 L568,236"/><path d="M270,340 C340,380 450,330 555,238"/><path d="M262,300 C330,345 440,300 545,245"/></g>
<rect x="198.5" y="434" width="3" height="10" fill="#7a5a3a"/>
<polygon points="191,434 200,406 209,434" fill="#3d8f3d"/>
<rect x="220.5" y="422" width="3" height="10" fill="#7a5a3a"/>
<polygon points="213,422 222,394 231,422" fill="#3d8f3d"/>
<rect x="242.5" y="410" width="3" height="10" fill="#7a5a3a"/>
<polygon points="235,410 244,382 253,410" fill="#3d8f3d"/>
<rect x="264.5" y="398" width="3" height="10" fill="#7a5a3a"/>
<polygon points="257,398 266,370 275,398" fill="#3d8f3d"/>
<rect x="286.5" y="386" width="3" height="10" fill="#7a5a3a"/>
<polygon points="279,386 288,358 297,386" fill="#3d8f3d"/>
<rect x="308.5" y="374" width="3" height="10" fill="#7a5a3a"/>
<polygon points="301,374 310,346 319,374" fill="#3d8f3d"/>
<rect x="330.5" y="364" width="3" height="10" fill="#7a5a3a"/>
<polygon points="323,364 332,336 341,364" fill="#3d8f3d"/>
<rect x="213.5" y="456" width="3" height="10" fill="#7a5a3a"/>
<polygon points="206,456 215,428 224,456" fill="#3d8f3d"/>
<rect x="236.5" y="444" width="3" height="10" fill="#7a5a3a"/>
<polygon points="229,444 238,416 247,444" fill="#3d8f3d"/>
<rect x="260.5" y="432" width="3" height="10" fill="#7a5a3a"/>
<polygon points="253,432 262,404 271,432" fill="#3d8f3d"/>
<rect x="282.5" y="420" width="3" height="10" fill="#7a5a3a"/>
<polygon points="275,420 284,392 293,420" fill="#3d8f3d"/>
<rect x="304.5" y="408" width="3" height="10" fill="#7a5a3a"/>
<polygon points="297,408 306,380 315,408" fill="#3d8f3d"/>
<rect x="326.5" y="396" width="3" height="10" fill="#7a5a3a"/>
<polygon points="319,396 328,368 337,396" fill="#3d8f3d"/>
<rect x="350.5" y="386" width="3" height="10" fill="#7a5a3a"/>
<polygon points="343,386 352,358 361,386" fill="#3d8f3d"/>
<rect x="373.5" y="99" width="3" height="10" fill="#7a5a3a"/>
<polygon points="365,99 375,67 385,99" fill="#3d8f3d"/>
<rect x="396.5" y="119" width="3" height="10" fill="#7a5a3a"/>
<polygon points="388,119 398,87 408,119" fill="#3d8f3d"/>
<rect x="418.5" y="129" width="3" height="10" fill="#7a5a3a"/>
<polygon points="410,129 420,97 430,129" fill="#3d8f3d"/>
<rect x="298" y="508" width="4" height="18" fill="#7a5a3a"/>
<ellipse cx="300" cy="506" rx="12" ry="15" fill="#4aa845"/>
<ellipse cx="297" cy="503" rx="7" ry="8" fill="#62bd55"/>
<rect x="353" y="500" width="4" height="18" fill="#7a5a3a"/>
<ellipse cx="355" cy="498" rx="12" ry="15" fill="#4aa845"/>
<ellipse cx="352" cy="495" rx="7" ry="8" fill="#62bd55"/>
<rect x="390" y="482" width="4" height="18" fill="#7a5a3a"/>
<ellipse cx="392" cy="480" rx="12" ry="15" fill="#4aa845"/>
<ellipse cx="389" cy="477" rx="7" ry="8" fill="#62bd55"/>
<rect x="436" y="492" width="4" height="18" fill="#7a5a3a"/>
<ellipse cx="438" cy="490" rx="12" ry="15" fill="#4aa845"/>
<ellipse cx="435" cy="487" rx="7" ry="8" fill="#62bd55"/>
<rect x="476" y="498" width="4" height="18" fill="#7a5a3a"/>
<ellipse cx="478" cy="496" rx="12" ry="15" fill="#4aa845"/>
<ellipse cx="475" cy="493" rx="7" ry="8" fill="#62bd55"/>
<rect x="333" y="540" width="4" height="18" fill="#7a5a3a"/>
<ellipse cx="335" cy="538" rx="12" ry="15" fill="#4aa845"/>
<ellipse cx="332" cy="535" rx="7" ry="8" fill="#62bd55"/>
<rect x="370" y="528" width="4" height="18" fill="#7a5a3a"/>
<ellipse cx="372" cy="526" rx="12" ry="15" fill="#4aa845"/>
<ellipse cx="369" cy="523" rx="7" ry="8" fill="#62bd55"/>
<rect x="410" y="520" width="4" height="18" fill="#7a5a3a"/>
<ellipse cx="412" cy="518" rx="12" ry="15" fill="#4aa845"/>
<ellipse cx="409" cy="515" rx="7" ry="8" fill="#62bd55"/>
<rect x="450" y="528" width="4" height="18" fill="#7a5a3a"/>
<ellipse cx="452" cy="526" rx="12" ry="15" fill="#4aa845"/>
<ellipse cx="449" cy="523" rx="7" ry="8" fill="#62bd55"/>
<rect x="383" y="562" width="4" height="18" fill="#7a5a3a"/>
<ellipse cx="385" cy="560" rx="12" ry="15" fill="#4aa845"/>
<ellipse cx="382" cy="557" rx="7" ry="8" fill="#62bd55"/>
<rect x="423" y="560" width="4" height="18" fill="#7a5a3a"/>
<ellipse cx="425" cy="558" rx="12" ry="15" fill="#4aa845"/>
<ellipse cx="422" cy="555" rx="7" ry="8" fill="#62bd55"/>
<rect x="400" y="590" width="4" height="18" fill="#7a5a3a"/>
<ellipse cx="402" cy="588" rx="12" ry="15" fill="#4aa845"/>
<ellipse cx="399" cy="585" rx="7" ry="8" fill="#62bd55"/>
<rect x="360" y="555" width="4" height="18" fill="#7a5a3a"/>
<ellipse cx="362" cy="553" rx="12" ry="15" fill="#4aa845"/>
<ellipse cx="359" cy="550" rx="7" ry="8" fill="#62bd55"/>
<rect x="596" y="325" width="4" height="19" fill="#7a5a3a"/>
<ellipse cx="598" cy="323" rx="13" ry="16" fill="#4aa845"/>
<ellipse cx="595" cy="320" rx="8" ry="9" fill="#62bd55"/>
<rect x="634" y="345" width="4" height="19" fill="#7a5a3a"/>
<ellipse cx="636" cy="343" rx="13" ry="16" fill="#4aa845"/>
<ellipse cx="633" cy="340" rx="8" ry="9" fill="#62bd55"/>
<rect x="670" y="365" width="4" height="19" fill="#7a5a3a"/>
<ellipse cx="672" cy="363" rx="13" ry="16" fill="#4aa845"/>
<ellipse cx="669" cy="360" rx="8" ry="9" fill="#62bd55"/>
<rect x="706" y="385" width="4" height="19" fill="#7a5a3a"/>
<ellipse cx="708" cy="383" rx="13" ry="16" fill="#4aa845"/>
<ellipse cx="705" cy="380" rx="8" ry="9" fill="#62bd55"/>
<rect x="828" y="440" width="4" height="26" fill="#7a5a3a"/>
<ellipse cx="830" cy="438" rx="20" ry="23" fill="#4aa845"/>
<ellipse cx="827" cy="435" rx="12" ry="14" fill="#62bd55"/>
<rect x="518" y="632" width="4" height="19" fill="#7a5a3a"/>
<ellipse cx="520" cy="630" rx="13" ry="16" fill="#4aa845"/>
<ellipse cx="517" cy="627" rx="8" ry="9" fill="#62bd55"/>
<rect x="558" y="622" width="4" height="19" fill="#7a5a3a"/>
<ellipse cx="560" cy="620" rx="13" ry="16" fill="#4aa845"/>
<ellipse cx="557" cy="617" rx="8" ry="9" fill="#62bd55"/>
<rect x="583" y="585" width="4" height="19" fill="#7a5a3a"/>
<ellipse cx="585" cy="583" rx="13" ry="16" fill="#4aa845"/>
<ellipse cx="582" cy="580" rx="8" ry="9" fill="#62bd55"/>
<rect x="613" y="598" width="4" height="19" fill="#7a5a3a"/>
<ellipse cx="615" cy="596" rx="13" ry="16" fill="#4aa845"/>
<ellipse cx="612" cy="593" rx="8" ry="9" fill="#62bd55"/></g>
<g transform="translate(380,580) scale(0.32882)">
<!-- bales -->
<g>
<circle cx="175" cy="135" r="93" fill="#f6d243"/><circle cx="175" cy="135" r="62" fill="#ecc53a"/><circle cx="175" cy="135" r="28" fill="#ddb530"/>
<circle cx="347" cy="125" r="96" fill="#f6d243"/><circle cx="347" cy="125" r="64" fill="#ecc53a"/><circle cx="347" cy="125" r="30" fill="#ddb530"/>
<circle cx="105" cy="285" r="88" fill="#f6d243"/><circle cx="112" cy="285" r="58" fill="#ecc53a"/><circle cx="115" cy="285" r="26" fill="#ddb530"/>
<circle cx="445" cy="285" r="84" fill="#f6d243"/><circle cx="438" cy="285" r="54" fill="#ecc53a"/><circle cx="436" cy="285" r="24" fill="#ddb530"/>
<circle cx="295" cy="258" r="100" fill="#f6d243"/><circle cx="300" cy="262" r="68" fill="#ecc53a"/><circle cx="302" cy="264" r="30" fill="#ddb530"/>
</g>
<!-- stakes -->
<g fill="#a98a3e"><rect x="36" y="232" width="15" height="100"/><rect x="149" y="232" width="15" height="100"/><rect x="263" y="232" width="15" height="100"/><rect x="378" y="232" width="15" height="100"/><rect x="490" y="232" width="15" height="100"/></g>
<!-- trailer -->
<rect x="22" y="328" width="500" height="66" fill="#4e4e50"/><rect x="22" y="328" width="500" height="18" fill="#666668"/>
<rect x="55" y="394" width="440" height="18" fill="#3a3a3c"/>
<rect x="520" y="376" width="75" height="9" fill="#4e4e50"/>
<circle cx="102" cy="436" r="39" fill="#2b2427"/><circle cx="102" cy="436" r="21" fill="#e9e9e9"/><circle cx="102" cy="436" r="9" fill="#2b2427"/>
<circle cx="438" cy="438" r="39" fill="#2b2427"/><circle cx="438" cy="438" r="21" fill="#e9e9e9"/><circle cx="438" cy="438" r="9" fill="#2b2427"/>
<!-- tractor body -->
<path d="M600,290 L650,275 L975,275 Q990,278 990,300 L985,350 L860,400 L600,400 Z" fill="#3fae4c"/>
<path d="M650,275 L655,200 Q658,180 680,180 L800,180 Q820,180 823,200 L838,275 Z" fill="#3fae4c"/>
<path d="M668,268 L672,205 Q674,195 684,195 L728,195 L728,268 Z" fill="#c4e6f5"/>
<path d="M740,195 L798,195 Q808,195 810,205 L822,268 L740,268 Z" fill="#c4e6f5"/>
<g stroke="#fff" stroke-width="10"><line x1="676" y1="255" x2="722" y2="205"/><line x1="690" y1="268" x2="728" y2="228"/><line x1="748" y1="250" x2="796" y2="200"/><line x1="764" y1="268" x2="812" y2="218"/></g>
<path d="M760,290 L960,290 L965,340 L770,340 Z" fill="#4fbb5c"/>
<rect x="870" y="300" width="60" height="6" fill="#3a9e46"/><rect x="870" y="314" width="60" height="6" fill="#3a9e46"/><rect x="785" y="300" width="22" height="7" fill="#dff3e2"/>
<rect x="952" y="296" width="22" height="22" fill="#f2e35a"/><rect x="608" y="260" width="16" height="24" fill="#d8323a"/>
<!-- fenders -->
<path d="M570,395 C575,320 640,285 700,300 C745,312 762,350 765,395 Z" fill="#5cc46a"/>
<path d="M850,400 C858,355 900,335 935,340 C975,345 992,375 996,400 Z" fill="#5cc46a"/>
<!-- wheels -->
<circle cx="660" cy="387" r="88" fill="#2b2427"/><circle cx="660" cy="387" r="47" fill="#ececec"/><circle cx="660" cy="387" r="36" fill="#fff"/><circle cx="660" cy="387" r="11" fill="#2b2427"/>
<circle cx="925" cy="407" r="66" fill="#2b2427"/><circle cx="925" cy="407" r="36" fill="#ececec"/><circle cx="925" cy="407" r="27" fill="#fff"/><circle cx="925" cy="407" r="9" fill="#2b2427"/>
</g>
<g transform="translate(20,1530) scale(0.2998)"><defs>
<linearGradient id="tkShadow" x1="0" x2="1" y1="1" y2="0"><stop offset="0" stop-color="#5e5e5e"/><stop offset="0.6" stop-color="#8a8a8a"/><stop offset="1" stop-color="#c8c8c8" stop-opacity="0.4"/></linearGradient>
<linearGradient id="tkRoof" x1="0" x2="1" y1="0" y2="1"><stop offset="0" stop-color="#ffd75e"/><stop offset="0.5" stop-color="#ffeb9a"/><stop offset="1" stop-color="#ffd560"/></linearGradient>
<linearGradient id="tkFront" x1="0" x2="0" y1="0" y2="1"><stop offset="0" stop-color="#fdbb3e"/><stop offset="1" stop-color="#f9a52c"/></linearGradient>
<linearGradient id="tkSide" x1="0" x2="1" y1="0" y2="0"><stop offset="0" stop-color="#fba83a"/><stop offset="1" stop-color="#f28d28"/></linearGradient>
<linearGradient id="tkFender" x1="0" x2="1" y1="0" y2="0"><stop offset="0" stop-color="#ffb52e"/><stop offset="0.5" stop-color="#ffe24a"/><stop offset="1" stop-color="#ffc22e"/></linearGradient>
</defs>
<polygon points="440,860 560,690 985,470 985,540 900,640 620,870" fill="url(#tkShadow)"/>
<ellipse cx="828" cy="585" rx="92" ry="98" fill="#2a2a2c" transform="rotate(-15 828 585)"/>
<ellipse cx="852" cy="575" rx="55" ry="72" fill="#b9b9bb" transform="rotate(-15 852 575)"/>
<ellipse cx="858" cy="572" rx="42" ry="58" fill="#ededee" transform="rotate(-15 858 572)"/>
<polygon points="375,235 930,355 978,378 575,615 560,600" fill="#e4e4e6"/>
<polygon points="560,600 978,376 978,406 585,645 560,640" fill="#c2c2c5"/>
<polygon points="560,600 978,376 978,384 560,610" fill="#d9d9db"/>
<polygon points="700,275 820,322 820,457 700,410" fill="#cfae6a"/>
<polygon points="820,322 918,270 918,405 820,457" fill="#dcc086"/>
<polygon points="700,275 800,225 918,270 820,322" fill="#e8cf96"/>
<line x1="750.0" y1="250.0" x2="869.0" y2="296.0" stroke="#b89a5a" stroke-width="3"/>
<rect x="859.0" y="300.0" width="22" height="47" fill="#f0dcae" transform="skewY(-28)" style="transform-box:fill-box;transform-origin:center"/>
<polygon points="575,355 700,400 700,535 575,490" fill="#cfae6a"/>
<polygon points="700,400 800,348 800,483 700,535" fill="#dcc086"/>
<polygon points="575,355 672,305 800,348 700,400" fill="#e8cf96"/>
<line x1="623.5" y1="330.0" x2="750.0" y2="374.0" stroke="#b89a5a" stroke-width="3"/>
<rect x="740.0" y="378.0" width="22" height="47" fill="#f0dcae" transform="skewY(-28)" style="transform-box:fill-box;transform-origin:center"/>
<polygon points="455,420 580,478 580,613 455,555" fill="#cfae6a"/>
<polygon points="580,478 678,425 678,560 580,613" fill="#dcc086"/>
<polygon points="455,420 560,380 678,425 580,478" fill="#e8cf96"/>
<line x1="507.5" y1="400.0" x2="629.0" y2="451.5" stroke="#b89a5a" stroke-width="3"/>
<rect x="619.0" y="455.5" width="22" height="47" fill="#f0dcae" transform="skewY(-28)" style="transform-box:fill-box;transform-origin:center"/>
<polygon points="555,105 680,150 680,265 555,220" fill="#cfae6a"/>
<polygon points="680,150 775,95 775,210 680,265" fill="#dcc086"/>
<polygon points="555,105 655,50 775,95 680,150" fill="#e8cf96"/>
<line x1="605.0" y1="77.5" x2="727.5" y2="122.5" stroke="#b89a5a" stroke-width="3"/>
<rect x="717.5" y="126.5" width="22" height="40" fill="#f0dcae" transform="skewY(-28)" style="transform-box:fill-box;transform-origin:center"/>
<polygon points="700,150 820,200 820,322 700,272" fill="#cfae6a"/>
<polygon points="820,200 915,145 915,267 820,322" fill="#dcc086"/>
<polygon points="700,150 795,100 915,145 820,200" fill="#e8cf96"/>
<line x1="747.5" y1="125.0" x2="867.5" y2="172.5" stroke="#b89a5a" stroke-width="3"/>
<rect x="857.5" y="176.5" width="22" height="43" fill="#f0dcae" transform="skewY(-28)" style="transform-box:fill-box;transform-origin:center"/>
<polygon points="420,190 545,235 545,345 420,300" fill="#cfae6a"/>
<polygon points="545,235 640,180 640,290 545,345" fill="#dcc086"/>
<polygon points="420,190 520,135 640,180 545,235" fill="#e8cf96"/>
<line x1="470.0" y1="162.5" x2="592.5" y2="207.5" stroke="#b89a5a" stroke-width="3"/>
<rect x="582.5" y="211.5" width="22" height="38" fill="#f0dcae" transform="skewY(-28)" style="transform-box:fill-box;transform-origin:center"/>
<polygon points="575,235 700,285 700,403 575,353" fill="#cfae6a"/>
<polygon points="700,285 790,230 790,348 700,403" fill="#dcc086"/>
<polygon points="575,235 670,185 790,230 700,285" fill="#e8cf96"/>
<line x1="622.5" y1="210.0" x2="745.0" y2="257.5" stroke="#b89a5a" stroke-width="3"/>
<rect x="735.0" y="261.5" width="22" height="41" fill="#f0dcae" transform="skewY(-28)" style="transform-box:fill-box;transform-origin:center"/>
<polygon points="375,238 470,288 470,348 375,298" fill="#cfae6a"/>
<polygon points="470,288 530,258 530,318 470,348" fill="#dcc086"/>
<polygon points="375,238 445,212 530,258 470,288" fill="#e8cf96"/>
<line x1="410.0" y1="225.0" x2="500.0" y2="273.0" stroke="#b89a5a" stroke-width="3"/>
<rect x="490.0" y="277.0" width="22" height="21" fill="#f0dcae" transform="skewY(-28)" style="transform-box:fill-box;transform-origin:center"/>
<polygon points="470,288 580,345 580,475 470,418" fill="#cfae6a"/>
<polygon points="580,345 672,300 672,430 580,475" fill="#dcc086"/>
<polygon points="470,288 560,255 672,300 580,345" fill="#e8cf96"/>
<line x1="515.0" y1="271.5" x2="626.0" y2="322.5" stroke="#b89a5a" stroke-width="3"/>
<rect x="616.0" y="326.5" width="22" height="46" fill="#f0dcae" transform="skewY(-28)" style="transform-box:fill-box;transform-origin:center"/>
<path d="M350,468 L545,340 L555,560 C575,590 580,620 570,640 L480,700 L420,795 L345,805 Z" fill="url(#tkSide)"/>
<path d="M72,335 L350,468 L345,805 L322,812 L255,772 L252,742 L150,692 L148,668 L62,622 L50,578 L56,470 Z" fill="url(#tkFront)"/>
<polygon points="92,345 345,472 340,625 68,478" fill="#e9e9ec"/>
<polygon points="100,380 330,492 328,600 80,476" fill="#bfc3cc"/>
<path d="M118,408 Q150,378 180,385 L335,470 L328,568 Z" fill="#1d4c9e"/>
<polygon points="150,392 175,385 250,500 225,512" fill="#3a66b2"/>
<path d="M85,308 Q78,290 110,270 L222,210 Q245,198 272,210 L535,325 Q555,338 535,355 L362,458 Q345,468 322,456 L98,330 Z" fill="#f6a02c"/>
<path d="M88,298 Q82,282 112,262 L222,204 Q245,192 272,204 L532,316 Q550,328 532,343 L360,444 Q345,454 324,443 L100,320 Z" fill="url(#tkRoof)"/>
<polygon points="432,468 478,440 478,530 432,558" fill="#1d4c9e"/>
<polygon points="510,420 535,405 538,490 512,507" fill="#1d4c9e"/>
<path d="M385,505 Q395,480 410,478 L410,522 L385,538 Z" fill="#1d4c9e"/><path d="M385,578 L410,558 L410,600 Q398,620 385,622 Z" fill="#1d4c9e"/>
<line x1="445" y1="580" x2="480" y2="565" stroke="#c8381c" stroke-width="7" stroke-linecap="round"/>
<g stroke="#2a2a2a" stroke-width="6" stroke-linecap="round"><line x1="165" y1="612" x2="255" y2="660"/><line x1="160" y1="632" x2="250" y2="680"/><line x1="158" y1="652" x2="245" y2="698"/></g>
<polygon points="62,612 150,660 150,700 68,655" fill="#8fd6f4"/>
<polygon points="255,752 345,795 345,828 262,790" fill="#8fd6f4"/>
<polygon points="60,580 130,618 130,640 60,602" fill="#ffd75e"/>
<polygon points="255,722 345,764 345,788 255,746" fill="#ffd75e"/>
<ellipse cx="95" cy="608" rx="12" ry="7" fill="#e8501e" transform="rotate(28 95 608)"/><ellipse cx="298" cy="750" rx="12" ry="7" fill="#e8501e" transform="rotate(28 298 750)"/>
<rect x="350" y="785" width="10" height="38" fill="#e8501e"/>
<ellipse cx="495" cy="785" rx="62" ry="95" fill="#232325" transform="rotate(8 495 785)"/>
<ellipse cx="518" cy="765" rx="30" ry="62" fill="#c9c9cb" transform="rotate(8 518 765)"/><ellipse cx="522" cy="762" rx="20" ry="48" fill="#efeff0" transform="rotate(8 522 762)"/>
<g stroke="#e0e0e0" stroke-width="6" fill="none"><path d="M445,800 L470,780 L490,805"/><path d="M450,830 L475,808 L495,835"/></g>
<path d="M415,800 C420,700 470,620 545,598 Q590,605 578,640 C525,655 480,720 468,800 Z" fill="url(#tkFender)"/></g>
<g transform="translate(300,1530) scale(0.13539)">
<!-- back arm (his left, our right) -->
<path d="M500,445 Q560,450 575,520 L600,650 L790,745 L770,800 L560,720 L520,640 Z" fill="#e5802c"/>
<!-- legs -->
<path d="M262,810 L525,830 L540,1000 L585,1370 L560,1790 L455,1790 L470,1380 L395,1050 L330,1400 L215,1720 L120,1680 L225,1360 L255,1000 Z" fill="#1b4561"/>
<!-- shoes -->
<path d="M125,1690 L215,1725 L290,1790 Q295,1815 270,1815 L150,1790 Q105,1760 110,1725 Z" fill="#1c1c25"/>
<path d="M460,1790 L560,1790 L650,1830 Q660,1850 640,1852 L465,1852 Q452,1820 460,1790 Z" fill="#1c1c25"/>
<!-- torso shirt -->
<path d="M320,440 L210,455 Q180,470 182,540 L190,700 L260,780 L262,830 L525,840 L530,520 Q525,450 500,445 L430,440 L440,380 L345,370 Z" fill="#f08b34"/>
<!-- neck -->
<path d="M345,360 L440,385 L438,445 Q395,470 335,440 Z" fill="#f2ad93"/>
<!-- bib -->
<path d="M285,525 L520,525 L528,840 L262,830 L280,700 Z" fill="#1b4561"/>
<rect x="320" y="705" width="175" height="125" fill="#25587a"/>
<path d="M275,440 L315,435 L322,530 L288,530 Z" fill="#1b4561"/><path d="M462,432 L498,432 L520,530 L478,530 Z" fill="#1b4561"/>
<circle cx="300" cy="543" r="11" fill="#fff"/><circle cx="486" cy="543" r="11" fill="#fff"/>
<!-- front arm -->
<path d="M200,460 Q180,480 182,545 L195,700 L440,875 L470,815 L295,690 L290,500 Z" fill="#f08b34"/>
<!-- hand front -->
<path d="M455,815 L530,808 L600,870 L590,900 L560,912 L470,870 Z" fill="#f7c2aa"/>
<!-- pipe -->
<path d="M560,830 C650,790 780,765 915,760 Q935,765 930,790 Q925,800 910,800 C790,805 680,820 590,850 Q565,855 560,830 Z" fill="#c9512f"/>
<!-- back hand -->
<path d="M765,752 L820,758 L835,790 L800,815 L760,820 Z" fill="#f7c2aa"/>
<!-- head -->
<path d="M278,255 L350,262 L345,385 L300,340 Z" fill="#1e1e2a"/>
<path d="M335,272 L492,272 L496,340 C496,382 470,402 440,402 L398,396 L350,372 Z" fill="#f5b49b"/>
<path d="M275,256 C268,180 320,130 390,130 C458,130 500,180 506,236 L546,250 Q552,264 535,266 L486,272 L280,263 Z" fill="#f9c130"/>
<path d="M280,262 L486,272 L535,266" stroke="#e0a51e" stroke-width="6" fill="none"/>
</g>
<g transform="translate(50,1920) scale(0.15474)">
<!-- shirt torso + arms -->
<path d="M235,455 L500,450 Q560,470 575,560 L600,740 L790,715 L800,775 L590,830 L540,820 L200,830 L120,800 Q90,780 100,700 L135,540 Q150,470 235,455 Z" fill="#f08b34"/>
<path d="M135,540 Q150,470 215,458 L200,830 L120,800 Q88,780 100,700 Z" fill="#e27f2d"/>
<!-- neck -->
<path d="M300,360 L440,360 L445,440 Q370,470 290,440 Z" fill="#f5b49b"/>
<!-- overalls -->
<path d="M200,535 L530,535 L540,1000 L575,1990 L455,1990 L405,1165 L368,1165 L295,1990 L195,1990 L215,1000 L190,700 Z" fill="#17425e"/>
<path d="M235,462 L276,458 L280,545 L238,545 Z" fill="#17425e"/><path d="M458,456 L498,452 L505,545 L462,545 Z" fill="#17425e"/>
<!-- shoes -->
<path d="M200,1988 L300,1988 L420,2050 Q440,2075 425,2088 L200,2088 Q190,2030 200,1988 Z" fill="#1c1c25"/>
<path d="M455,1988 L560,1988 L675,2050 Q695,2075 680,2086 L455,2086 Q445,2030 455,1988 Z" fill="#1c1c25"/>
<!-- hand + object -->
<path d="M785,712 L850,690 L890,685 Q900,720 880,745 L840,770 L800,778 Z" fill="#f7c2aa"/>
<path d="M625,738 Q640,712 700,700 L790,660 L860,652 Q880,690 860,715 L800,725 L700,740 Z" fill="#8b3a2a"/>
<!-- head -->
<path d="M468,222 L492,222 L494,300 L486,345 L468,345 Z" fill="#f5b49b"/>
<path d="M234,226 L470,220 L478,352 Q470,372 456,362 L442,330 Q420,372 332,374 Q238,350 234,226 Z" fill="#2b2b34"/>
<circle cx="436" cy="296" r="26" fill="#f5b49b"/>
<path d="M230,216 C224,120 290,58 366,58 C440,58 490,110 496,160 L514,170 Q526,190 506,200 L480,216 L235,228 Z" fill="#f9c130"/>
<path d="M235,228 L480,216 L506,200" stroke="#e0a51e" stroke-width="7" fill="none"/>
</g>
<g transform="translate(170,2130) scale(0.25145)"><ellipse cx="500" cy="430" rx="300" ry="200" fill="#38963b"/>
<g fill="#33903d"><ellipse cx="850" cy="440" rx="95" ry="170"/><circle cx="936" cy="440" r="28"/><circle cx="927" cy="506" r="34"/><circle cx="903" cy="560" r="21"/><circle cx="869" cy="589" r="33"/><circle cx="831" cy="589" r="30"/><circle cx="797" cy="560" r="22"/><circle cx="773" cy="506" r="35"/><circle cx="764" cy="440" r="26"/><circle cx="773" cy="374" r="25"/><circle cx="797" cy="320" r="35"/><circle cx="831" cy="291" r="22"/><circle cx="869" cy="291" r="30"/><circle cx="903" cy="320" r="33"/><circle cx="927" cy="374" r="21"/></g>
<g fill="#36923f"><ellipse cx="770" cy="580" rx="110" ry="95"/><circle cx="869" cy="580" r="28"/><circle cx="856" cy="623" r="34"/><circle cx="820" cy="654" r="21"/><circle cx="770" cy="666" r="33"/><circle cx="720" cy="654" r="30"/><circle cx="684" cy="623" r="22"/><circle cx="671" cy="580" r="35"/><circle cx="684" cy="537" r="26"/><circle cx="720" cy="506" r="25"/><circle cx="770" cy="494" r="35"/><circle cx="820" cy="506" r="22"/><circle cx="856" cy="537" r="30"/></g>
<g fill="#45ad43"><ellipse cx="640" cy="180" rx="105" ry="95"/><circle cx="734" cy="180" r="28"/><circle cx="722" cy="223" r="34"/><circle cx="687" cy="254" r="21"/><circle cx="640" cy="266" r="33"/><circle cx="593" cy="254" r="30"/><circle cx="558" cy="223" r="22"/><circle cx="546" cy="180" r="35"/><circle cx="558" cy="137" r="26"/><circle cx="593" cy="106" r="25"/><circle cx="640" cy="94" r="35"/><circle cx="687" cy="106" r="22"/><circle cx="722" cy="137" r="30"/></g>
<g fill="#43a942"><ellipse cx="745" cy="275" rx="85" ry="75"/><circle cx="822" cy="275" r="22"/><circle cx="807" cy="315" r="27"/><circle cx="769" cy="339" r="17"/><circle cx="721" cy="339" r="26"/><circle cx="683" cy="315" r="24"/><circle cx="668" cy="275" r="18"/><circle cx="683" cy="235" r="28"/><circle cx="721" cy="211" r="20"/><circle cx="769" cy="211" r="20"/><circle cx="807" cy="235" r="28"/></g>
<g fill="#50b646"><ellipse cx="150" cy="470" rx="85" ry="95"/><circle cx="226" cy="470" r="26"/><circle cx="216" cy="513" r="30"/><circle cx="188" cy="544" r="19"/><circle cx="150" cy="556" r="29"/><circle cx="112" cy="544" r="27"/><circle cx="84" cy="513" r="20"/><circle cx="74" cy="470" r="32"/><circle cx="84" cy="427" r="23"/><circle cx="112" cy="396" r="23"/><circle cx="150" cy="384" r="32"/><circle cx="188" cy="396" r="20"/><circle cx="216" cy="427" r="27"/></g>
<g fill="#52b847"><ellipse cx="215" cy="350" rx="70" ry="65"/><circle cx="278" cy="350" r="20"/><circle cx="266" cy="384" r="23"/><circle cx="234" cy="406" r="15"/><circle cx="196" cy="406" r="22"/><circle cx="164" cy="384" r="21"/><circle cx="152" cy="350" r="15"/><circle cx="164" cy="316" r="24"/><circle cx="196" cy="294" r="18"/><circle cx="234" cy="294" r="17"/><circle cx="266" cy="316" r="24"/></g>
<g fill="#38963b"><ellipse cx="470" cy="470" rx="150" ry="120"/><circle cx="605" cy="470" r="36"/><circle cx="587" cy="524" r="43"/><circle cx="538" cy="564" r="27"/><circle cx="470" cy="578" r="41"/><circle cx="402" cy="564" r="38"/><circle cx="353" cy="524" r="28"/><circle cx="335" cy="470" r="44"/><circle cx="353" cy="416" r="33"/><circle cx="402" cy="376" r="32"/><circle cx="470" cy="362" r="45"/><circle cx="538" cy="376" r="28"/><circle cx="587" cy="416" r="37"/></g>
<g fill="#38963b"><ellipse cx="420" cy="640" rx="120" ry="50"/><circle cx="528" cy="640" r="15"/><circle cx="507" cy="666" r="18"/><circle cx="453" cy="683" r="11"/><circle cx="387" cy="683" r="17"/><circle cx="333" cy="666" r="16"/><circle cx="312" cy="640" r="12"/><circle cx="333" cy="614" r="19"/><circle cx="387" cy="597" r="14"/><circle cx="453" cy="597" r="13"/><circle cx="507" cy="614" r="19"/></g>
<path d="M355,908 C420,880 420,800 415,740 C400,690 350,660 310,630 L325,615 C370,640 410,660 430,700 C430,650 415,600 400,570 L418,560 C440,600 455,650 460,700 C470,660 470,620 462,585 L480,580 C492,620 492,670 488,720 C510,680 540,620 555,565 L575,570 C565,630 540,690 525,730 C560,700 610,670 640,635 L655,650 C620,700 580,730 575,780 C575,830 600,870 645,880 C600,900 560,895 530,905 C500,915 470,905 440,912 C410,905 380,915 355,908 Z" fill="#8c5432"/>
<g stroke="#b07a4a" stroke-width="7" fill="none"><path d="M450,890 C465,840 460,780 470,740"/><path d="M520,890 C515,840 530,790 520,740"/><path d="M490,880 C495,840 490,800 500,770"/></g>
<g stroke="#8c5432" stroke-width="9" fill="none"><path d="M330,375 L385,430 L420,380"/><path d="M385,430 L390,455"/><path d="M620,410 L650,375"/><path d="M575,180 L565,220"/></g>
<g fill="#78cf50"><ellipse cx="345" cy="265" rx="125" ry="115"/><circle cx="458" cy="265" r="34"/><circle cx="446" cy="310" r="41"/><circle cx="415" cy="346" r="26"/><circle cx="370" cy="366" r="39"/><circle cx="320" cy="366" r="36"/><circle cx="275" cy="346" r="27"/><circle cx="244" cy="310" r="43"/><circle cx="232" cy="265" r="31"/><circle cx="244" cy="220" r="31"/><circle cx="275" cy="184" r="43"/><circle cx="320" cy="164" r="27"/><circle cx="370" cy="164" r="36"/><circle cx="415" cy="184" r="40"/><circle cx="446" cy="220" r="26"/></g>
<g fill="#74cb4f"><ellipse cx="445" cy="180" rx="70" ry="60"/><circle cx="508" cy="180" r="18"/><circle cx="496" cy="212" r="21"/><circle cx="464" cy="231" r="14"/><circle cx="426" cy="231" r="21"/><circle cx="394" cy="212" r="19"/><circle cx="382" cy="180" r="14"/><circle cx="394" cy="148" r="22"/><circle cx="426" cy="129" r="16"/><circle cx="464" cy="129" r="16"/><circle cx="496" cy="148" r="22"/></g>
<g fill="#62bf4c"><ellipse cx="770" cy="340" rx="85" ry="58"/><circle cx="846" cy="340" r="17"/><circle cx="832" cy="371" r="21"/><circle cx="794" cy="390" r="13"/><circle cx="746" cy="390" r="20"/><circle cx="708" cy="371" r="18"/><circle cx="694" cy="340" r="14"/><circle cx="708" cy="309" r="22"/><circle cx="746" cy="290" r="16"/><circle cx="794" cy="290" r="16"/><circle cx="832" cy="309" r="22"/></g>
<g fill="#7dd050"><ellipse cx="290" cy="560" rx="135" ry="130"/><circle cx="412" cy="560" r="39"/><circle cx="399" cy="611" r="46"/><circle cx="366" cy="651" r="29"/><circle cx="317" cy="674" r="45"/><circle cx="263" cy="674" r="41"/><circle cx="214" cy="651" r="30"/><circle cx="181" cy="611" r="48"/><circle cx="168" cy="560" r="35"/><circle cx="181" cy="509" r="35"/><circle cx="214" cy="469" r="48"/><circle cx="263" cy="446" r="31"/><circle cx="317" cy="446" r="41"/><circle cx="366" cy="469" r="45"/><circle cx="399" cy="509" r="29"/></g>
<g fill="#63c24a"><ellipse cx="640" cy="530" rx="140" ry="105"/><circle cx="766" cy="530" r="32"/><circle cx="754" cy="571" r="37"/><circle cx="719" cy="604" r="24"/><circle cx="668" cy="622" r="36"/><circle cx="612" cy="622" r="33"/><circle cx="561" cy="604" r="25"/><circle cx="526" cy="571" r="39"/><circle cx="514" cy="530" r="28"/><circle cx="526" cy="489" r="28"/><circle cx="561" cy="456" r="39"/><circle cx="612" cy="438" r="25"/><circle cx="668" cy="438" r="33"/><circle cx="719" cy="456" r="36"/><circle cx="754" cy="489" r="24"/></g>
<g fill="#a2d648"><ellipse cx="560" cy="310" rx="115" ry="100"/><circle cx="664" cy="310" r="30"/><circle cx="653" cy="349" r="36"/><circle cx="625" cy="380" r="23"/><circle cx="583" cy="398" r="34"/><circle cx="537" cy="398" r="32"/><circle cx="495" cy="380" r="23"/><circle cx="467" cy="349" r="37"/><circle cx="456" cy="310" r="27"/><circle cx="467" cy="271" r="27"/><circle cx="495" cy="240" r="37"/><circle cx="537" cy="222" r="24"/><circle cx="583" cy="222" r="31"/><circle cx="625" cy="240" r="35"/><circle cx="653" cy="271" r="23"/></g></g>
<g transform="translate(80,2270) scale(0.15474)">
<defs>
<linearGradient id="bkOr" x1="0" x2="1" y1="1" y2="0"><stop offset="0" stop-color="#f9a02a"/><stop offset="0.5" stop-color="#f3801f"/><stop offset="1" stop-color="#e2451c"/></linearGradient>
<linearGradient id="bkCap" x1="0" x2="0" y1="0" y2="1"><stop offset="0" stop-color="#162a36"/><stop offset="1" stop-color="#2c5466"/></linearGradient>
<linearGradient id="bkPg" x1="0" x2="1" y1="0" y2="0"><stop offset="0" stop-color="#fdf0d8"/><stop offset="1" stop-color="#f6dfba"/></linearGradient>
</defs>
<!-- blue book -->
<path d="M95,700 Q80,760 130,800 L640,945 L858,610 L850,500 L625,770 L160,640 Z" fill="#3aa7d2"/>
<path d="M112,715 L632,838 L640,930 L185,825 Q120,790 112,715 Z" fill="url(#bkPg)"/>
<path d="M632,838 L850,520 L852,612 L642,932 Z" fill="#f3dbb4"/>
<path d="M130,738 L185,730 L188,905 L160,918 L138,890 Z" fill="#d8281c"/>
<!-- orange book -->
<path d="M100,505 Q75,570 130,625 L602,752 L850,492 L858,378 L690,348 Z" fill="#b42222"/>
<path d="M112,512 L612,632 L602,742 L135,615 Q95,575 112,512 Z" fill="url(#bkPg)"/>
<path d="M612,632 L856,385 L846,482 L604,742 Z" fill="#f3dbb4"/>
<path d="M108,500 L690,348 L858,378 L615,628 Z" fill="url(#bkOr)"/>
<!-- cap -->
<path d="M240,300 L690,300 L695,440 Q600,500 480,535 Q350,480 245,420 Z" fill="#1d3644"/>
<path d="M480,400 L480,535 Q600,500 695,440 L690,300 Z" fill="#24485a"/>
<path d="M95,200 Q70,180 100,168 L450,58 Q470,52 495,58 L845,165 Q870,178 850,195 L500,395 Q480,405 460,395 Z" fill="url(#bkCap)"/>
<ellipse cx="475" cy="180" rx="30" ry="14" fill="#14252f"/>
<path d="M465,182 C370,200 290,270 285,380" stroke="#f9b21a" stroke-width="12" fill="none"/>
<circle cx="285" cy="392" r="26" fill="#f9b21a"/>
<path d="M262,400 L308,400 L328,555 L295,568 L255,555 Z" fill="#fbc02a"/>
<path d="M285,410 L290,565" stroke="#e09a10" stroke-width="6"/>
</g>
<g transform="translate(10,2420) scale(0.23211)">
<rect x="30" y="48" width="378" height="597" fill="#e9e9eb"/>
<rect x="365" y="48" width="43" height="130" fill="#d6d6d8"/>
<path d="M275,180 L228,645 L275,645 Z" fill="#cfcfd2"/>
<g fill="#5b9bd8"><rect x="55" y="118" width="270" height="32"/><rect x="55" y="198" width="220" height="33"/><rect x="55" y="280" width="220" height="32"/><rect x="55" y="360" width="220" height="32"/><rect x="55" y="440" width="220" height="32"/><rect x="55" y="520" width="220" height="33"/></g>
<g fill="#f2f2f3"><rect x="30" y="150" width="240" height="10"/><rect x="30" y="232" width="240" height="10"/><rect x="30" y="312" width="240" height="10"/><rect x="30" y="392" width="240" height="10"/><rect x="30" y="472" width="240" height="10"/></g>
<rect x="603" y="280" width="197" height="365" fill="#e9e9eb"/>
<g fill="#5b9bd8"><rect x="605" y="320" width="170" height="32"/><rect x="605" y="400" width="170" height="32"/><rect x="605" y="482" width="170" height="32"/><rect x="605" y="562" width="170" height="33"/></g>
<rect x="275" y="165" width="328" height="480" fill="#f1f1ef"/>
<path d="M262,175 L437,112 L612,175 Z" fill="#f1f1ef"/>
<path d="M232,150 L437,85 L645,150 L645,183 L437,120 L232,183 Z" fill="#da465b"/>
<g fill="#5b9bd8"><rect x="312" y="200" width="38" height="80"/><rect x="385" y="200" width="38" height="80"/><rect x="457" y="200" width="38" height="80"/><rect x="529" y="200" width="38" height="80"/><rect x="312" y="318" width="38" height="80"/><rect x="385" y="318" width="38" height="80"/><rect x="457" y="318" width="38" height="80"/><rect x="529" y="318" width="38" height="80"/>
<rect x="325" y="478" width="68" height="167"/><rect x="405" y="478" width="66" height="167"/><rect x="485" y="478" width="68" height="167"/></g>
<text transform="translate(524,458) scale(-1,1)" font-size="38" fill="#da465b" textLength="182" lengthAdjust="spacingAndGlyphs">HOSPITAL</text>
<rect x="690" y="252" width="9" height="30" fill="#8a8a8c"/><rect x="745" y="252" width="9" height="30" fill="#8a8a8c"/>
<rect x="677" y="165" width="91" height="90" fill="#da465b"/>
<rect x="712" y="178" width="22" height="64" fill="#fff"/><rect x="690" y="199" width="66" height="22" fill="#fff"/>
</g>
<g transform="translate(1140,2110) scale(0.15474)">
<!-- pants -->
<path d="M505,1150 L640,1150 L650,1500 L843,1500 L875,1800 L881,2085 L754,2085 L671,1545 L627,1545 L632,1800 L614,2055 L498,2055 L480,1800 L468,1540 Z" fill="#0d0d0f"/>
<!-- shoes -->
<path d="M498,2050 L614,2050 L611,2126 L392,2126 Q378,2108 420,2096 Z" fill="#5a3220"/>
<path d="M756,2082 L880,2082 L886,2150 Q885,2175 862,2175 L775,2172 Q766,2130 756,2082 Z" fill="#5a3220"/>
<!-- shirt -->
<path d="M560,420 L680,420 L640,1100 L520,1100 Z" fill="#f7b35c"/>
<!-- belt -->
<rect x="515" y="1095" width="112" height="60" fill="#8a4b28"/><rect x="548" y="1100" width="34" height="50" fill="none" stroke="#e8e8e8" stroke-width="7"/>
<!-- tie -->
<path d="M590,455 L615,490 L605,520 L618,870 L580,912 L550,870 L578,520 L565,490 Z" fill="#2a2a2f"/>
<!-- coat left part (our left) -->
<path d="M560,420 L520,1100 L515,1535 L462,1520 Q380,1470 350,1400 L400,1000 L270,980 L235,900 L395,790 L410,620 Q420,540 470,500 Z" fill="#eef2f6"/>
<!-- coat right part -->
<path d="M680,410 L860,470 Q920,500 935,600 L975,800 Q980,870 940,900 L850,960 L870,1300 L885,1470 Q800,1530 680,1545 L630,1530 L625,1100 L640,700 Z" fill="#eef2f6"/>
<path d="M640,700 L625,1100 L630,1530" stroke="#dfe5ec" stroke-width="6" fill="none"/>
<!-- pockets -->
<path d="M415,1030 L485,1030 L485,1170 L445,1200 L410,1180 Z" fill="#fff"/>
<path d="M660,1025 L800,1020 L815,1170 L750,1212 L690,1180 Z" fill="#fff"/>
<path d="M700,1025 L735,975 L770,1022 Z" fill="#f2a3b6"/>
<!-- hand left -->
<path d="M238,898 L180,900 L130,925 L95,985 L115,980 L150,950 L200,945 L250,925 Z" fill="#f2a3b6"/>
<!-- stethoscope -->
<g stroke="#4a4a50" stroke-width="6" fill="none"><path d="M560,405 C520,450 515,520 520,585"/><path d="M685,395 C720,440 735,520 738,565"/><path d="M738,565 C690,570 670,610 675,690 Q680,740 710,742"/><path d="M738,565 C790,570 800,610 795,690 Q790,740 758,742"/></g>
<circle cx="518" cy="602" r="28" fill="#b9b9be"/><circle cx="518" cy="602" r="14" fill="#6a6a70"/>
<rect x="690" y="612" width="90" height="16" fill="#d4d8de"/>
<ellipse cx="712" cy="744" rx="12" ry="7" fill="#2a2a2f"/><ellipse cx="762" cy="744" rx="12" ry="7" fill="#2a2a2f"/>
<!-- head -->
<path d="M535,195 Q525,300 560,375 L575,420 L560,440 L690,430 L668,400 L660,330 Q700,310 690,265 L640,190 Z" fill="#f2a3b6"/>
<path d="M532,160 Q560,105 640,108 Q725,120 736,210 Q735,255 718,270 Q700,245 680,255 L655,275 Q650,215 620,185 Q570,190 545,180 Q525,175 532,160 Z" fill="#4a2a1c"/>
</g>
<g transform="translate(20,2710) scale(0.39652)">
<defs>
<linearGradient id="gvB" gradientUnits="userSpaceOnUse" x1="25" x2="580" y1="0" y2="0"><stop offset="0" stop-color="#6ccff6"/><stop offset="1" stop-color="#5cc8c2"/></linearGradient>
<linearGradient id="gvP" gradientUnits="userSpaceOnUse" x1="100" x2="500" y1="0" y2="0"><stop offset="0" stop-color="#9ddbf6"/><stop offset="1" stop-color="#cdeef8"/></linearGradient>
<linearGradient id="gvGold" x1="0" x2="1" y1="0" y2="0"><stop offset="0" stop-color="#d8962c"/><stop offset="0.45" stop-color="#f6cf6a"/><stop offset="1" stop-color="#d8962c"/></linearGradient>
<linearGradient id="gvWood" x1="0" x2="1" y1="0" y2="0"><stop offset="0" stop-color="#6e3322"/><stop offset="0.45" stop-color="#9a5a3e"/><stop offset="1" stop-color="#6e3322"/></linearGradient>
<linearGradient id="gvWoodV" x1="0" x2="0" y1="0" y2="1"><stop offset="0" stop-color="#9a5a3e"/><stop offset="1" stop-color="#6a3020"/></linearGradient>
</defs>
<!-- building -->
<rect x="148" y="47" width="310" height="72" fill="url(#gvB)"/>
<path d="M25,123 L580,123 L576,150 L522,196 L85,196 L30,150 Z" fill="url(#gvB)"/>
<rect x="72" y="228" width="430" height="16" fill="url(#gvB)"/>
<rect x="93" y="244" width="88" height="228" fill="url(#gvB)"/>
<rect x="425" y="244" width="66" height="190" fill="url(#gvB)"/>
<rect x="92" y="165" width="416" height="60" fill="#fff"/><rect x="104" y="173" width="394" height="45" fill="url(#gvP)"/>
<!-- handle shadow -->
<ellipse cx="800" cy="540" rx="200" ry="10" fill="#d8e6ea"/>
<!-- handle -->
<path d="M595,330 L625,318 L965,505 Q975,500 985,510 Q1002,520 998,540 Q990,552 972,548 Q962,545 958,535 L600,372 Z" fill="url(#gvWoodV)"/>
<!-- gavel head (rotated) -->
<g transform="rotate(16 535 315)">
<rect x="470" y="200" width="130" height="230" fill="url(#gvWood)"/>
<rect x="458" y="192" width="154" height="30" rx="15" fill="#7a3c28"/><ellipse cx="535" cy="196" rx="75" ry="20" fill="#9a5a3e"/>
<rect x="462" y="228" width="146" height="26" rx="13" fill="#8a4932"/>
<rect x="474" y="262" width="122" height="84" fill="url(#gvGold)"/>
<rect x="462" y="352" width="146" height="26" rx="13" fill="#8a4932"/>
<rect x="456" y="384" width="158" height="30" rx="15" fill="#7a3c28"/>
<rect x="462" y="416" width="146" height="26" rx="13" fill="#6e3322"/>
</g>
<!-- sound block -->
<path d="M345,505 L365,460 L578,460 L598,505 Q598,550 470,552 Q345,550 345,505 Z" fill="#7a3c28"/>
<ellipse cx="471" cy="510" rx="126" ry="30" fill="#8a4932"/>
<path d="M345,512 Q345,552 471,552 Q598,552 598,512 Q598,540 471,542 Q345,540 345,512 Z" fill="#5e2a1c"/>
<ellipse cx="471" cy="462" rx="106" ry="26" fill="#9a5a3e"/><ellipse cx="471" cy="460" rx="92" ry="20" fill="#6e3322"/><ellipse cx="471" cy="464" rx="88" ry="17" fill="#8a4932"/>
</g>
<g>
<circle cx="1065.8" cy="3176.5" r="16" fill="none" stroke="#2f4fa8" stroke-width="2.6"/>
<text x="1065.8" y="3185" font-size="24" font-weight="bold" fill="#2f4fa8" text-anchor="middle" textLength="13" lengthAdjust="spacingAndGlyphs">C</text>
<g font-weight="bold" font-size="45" stroke-linejoin="miter">
<text x="1102" y="3195.4" fill="#3456b0" stroke="#3456b0" stroke-width="6" textLength="96" lengthAdjust="spacingAndGlyphs">TTX</text>
<text x="1237" y="3195.4" fill="#3456b0" stroke="#3456b0" stroke-width="6" textLength="28" lengthAdjust="spacingAndGlyphs">N</text>
<text x="1200" y="3195.4" fill="#d8242c" stroke="#d8242c" stroke-width="5" textLength="34" lengthAdjust="spacingAndGlyphs">V</text>
</g>
<circle cx="1209" cy="3184" r="9" fill="#c9d6ee" stroke="#8fa6d8" stroke-width="1"/>
<path d="M1203,3180 q4,-4 8,0 q2,4 -2,7 q-5,1 -6,-7z" fill="#eef2fa"/>
<path d="M1196,3190 C1205,3200 1228,3190 1232,3174" stroke="#d8242c" stroke-width="1.6" fill="none"/>
<text x="1158" y="3208" font-size="11.5" font-weight="bold" fill="#d8242c" textLength="109.5" lengthAdjust="spacingAndGlyphs">Vietnam News Agency</text>
</g>

</svg>
</body></html>
